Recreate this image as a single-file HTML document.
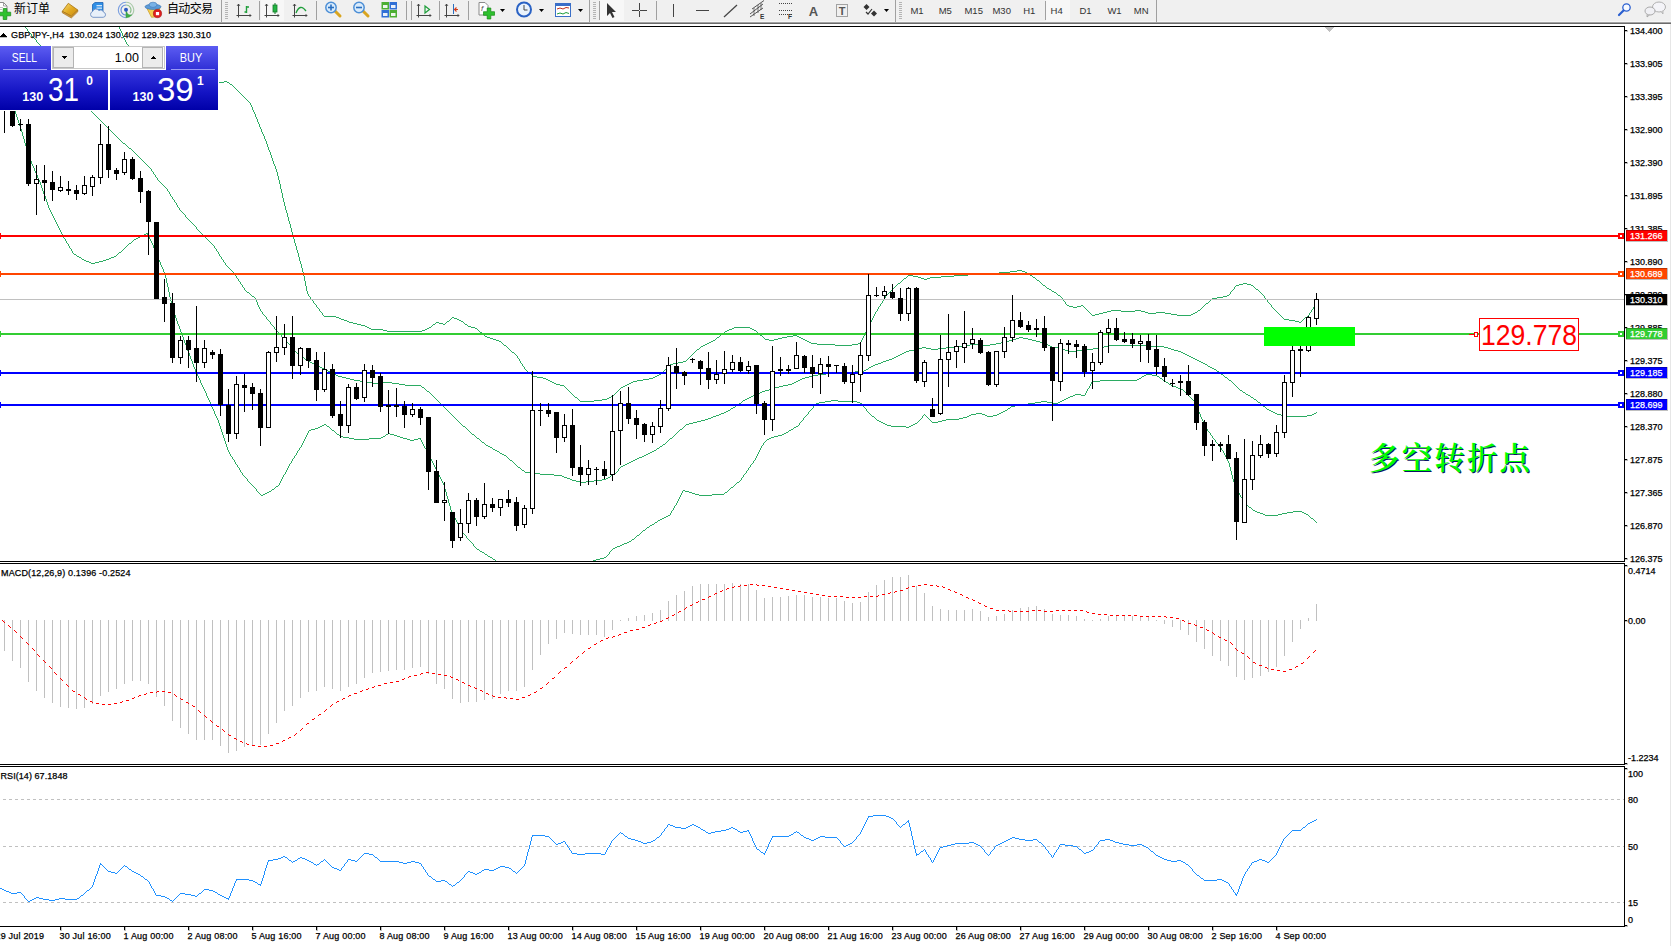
<!DOCTYPE html>
<html lang="zh"><head><meta charset="utf-8"><title>GBPJPY-,H4</title>
<style>
html,body{margin:0;padding:0;background:#fff;overflow:hidden}
body{width:1671px;height:946px;position:relative;font-family:"Liberation Sans","Noto Sans CJK SC",sans-serif}
svg{position:absolute;left:0;top:0;display:block}
svg text{font-family:"Liberation Sans","Noto Sans CJK SC",sans-serif}
.crisp{shape-rendering:crispEdges}
</style></head><body>
<svg class="crisp" width="1671" height="946" viewBox="0 0 1671 946">
<defs><clipPath id="cm"><rect x="0" y="27" width="1624" height="534"/></clipPath><clipPath id="c2"><rect x="0" y="564" width="1624" height="200"/></clipPath><clipPath id="c3"><rect x="0" y="767" width="1624" height="159"/></clipPath><linearGradient id="gb1" x1="0" y1="0" x2="0" y2="1"><stop offset="0" stop-color="#5c5cf2"/><stop offset="1" stop-color="#2f2fd6"/></linearGradient><linearGradient id="gb2" x1="0" y1="0" x2="0" y2="1"><stop offset="0" stop-color="#3535de"/><stop offset="0.55" stop-color="#1414c4"/><stop offset="1" stop-color="#0000a8"/></linearGradient></defs>
<rect x="0" y="26" width="1625" height="1" fill="#000"/>
<rect x="1624" y="26" width="1" height="901" fill="#000"/>
<rect x="0" y="561" width="1625" height="1" fill="#000"/>
<rect x="0" y="562" width="1625" height="1" fill="#fff"/>
<rect x="0" y="563" width="1625" height="1" fill="#000"/>
<rect x="0" y="764" width="1625" height="1" fill="#000"/>
<rect x="0" y="765" width="1625" height="1" fill="#fff"/>
<rect x="0" y="766" width="1625" height="1" fill="#000"/>
<rect x="0" y="926" width="1625" height="1" fill="#000"/>
<rect x="1670" y="24" width="1" height="922" fill="#e6e6e6"/>
<g clip-path="url(#cm)">
<path transform="translate(0,.5)" d="M140 60h2M142 61h2M144 62h2M146 63h2M148 64h2M150 65h2M152 66h2M154 67h3M157 68h2M159 69h2M161 70h2M163 71h2M165 72h2M167 73h2M169 74h4M173 75h5M178 76h5M183 77h5M188 78h5M193 79h5M198 80h8M206 81h10M224 81h3M216 82h8M227 82h2M230 84h2M1017 270h5M1010 271h7M1022 271h3M999 272h11M1025 272h2M980 273h19M1027 273h2M968 274h12M908 275h5M954 275h14M1030 275h2M913 276h5M941 276h13M918 277h3M930 277h11M1033 277h2M904 278h2M921 278h3M927 278h3M924 279h3M1037 280h2M898 283h2M1243 283h4M1239 284h4M1247 284h4M1043 285h2M1236 285h3M1251 285h2M1047 288h2M1049 289h2M1256 289h2M1052 291h2M1054 292h2M1058 295h2M1227 295h2M1223 296h4M1217 297h6M1212 298h5M1206 303h2M1067 305h2M1081 305h2M1069 306h4M1077 306h4M1073 307h4M1111 310h10M1135 310h6M1198 310h2M1107 311h4M1121 311h14M1141 311h4M1103 312h4M1145 312h3M1156 312h9M1195 312h2M1099 313h4M1148 313h8M1165 313h6M1193 313h2M1095 314h4M1171 314h6M1191 314h2M1092 315h3M1177 315h14M324 316h12M336 317h3M452 317h2M1305 317h2M339 318h2M454 318h3M341 319h3M457 319h2M1284 319h5M344 320h3M459 320h2M1289 320h6M347 321h2M447 321h2M461 321h2M1295 321h4M349 322h4M436 322h3M1299 322h2M353 323h4M439 323h4M357 324h4M433 324h2M443 324h2M465 324h2M361 325h4M365 326h2M468 326h3M367 327h2M429 327h2M471 327h4M734 327h16M369 328h2M427 328h2M475 328h2M732 328h2M750 328h2M371 329h12M425 329h2M729 329h3M752 329h2M383 330h4M422 330h3M727 330h2M754 330h2M387 331h35M725 331h2M480 332h2M722 333h2M760 335h2M793 335h4M485 336h2M787 336h6M797 336h2M487 337h3M717 337h2M782 337h5M799 337h2M490 338h3M778 338h4M801 338h2M493 339h3M765 339h4M774 339h4M803 339h2M496 340h3M713 340h2M769 340h5M805 340h2M499 341h2M711 341h2M807 341h2M709 342h2M809 342h2M707 343h2M811 343h6M858 343h3M705 344h2M817 344h18M852 344h6M504 345h2M703 345h2M835 345h17M701 346h2M697 349h2M512 352h2M683 361h3M678 362h5M673 363h5M670 364h3M529 373h2M659 374h2M657 375h2M533 376h4M655 376h2M537 377h6M653 377h2M543 378h3M649 378h4M546 379h2M643 379h6M548 380h2M637 380h6M550 381h2M633 381h4M552 382h2M631 382h2M554 383h2M629 383h2M556 384h4M627 384h2M560 385h4M625 385h2M623 386h2M621 387h2M611 396h2M575 397h2M609 397h2M607 398h2M602 399h5M594 400h8M580 401h14" stroke="#2bab62" fill="none"/><path transform="translate(.5,0)" d="M119 27v2M120 29v2M121 31v2M122 33v3M123 36v2M124 38v2M125 40v2M126 42v2M127 44v1M128 45v2M129 47v1M130 48v1M131 49v1M132 50v1M133 51v2M134 53v1M135 54v1M136 55v1M137 56v1M138 57v2M139 59v1M229 83v1M232 85v1M233 86v1M234 87v1M235 88v1M236 89v1M237 90v1M238 91v1M239 92v1M240 93v1M241 94v1M242 95v1M243 96v1M244 97v1M245 98v1M246 99v1M247 100v1M248 101v1M249 102v1M250 103v2M251 105v2M252 107v3M253 110v2M254 112v2M255 114v3M256 117v2M257 119v3M258 122v2M259 124v3M260 127v2M261 129v3M262 132v2M263 134v2M264 136v3M265 139v2M266 141v3M267 144v3M268 147v3M269 150v2M270 152v3M271 155v3M272 158v3M273 161v3M274 164v2M275 166v3M276 169v3M277 172v4M278 176v4M279 180v4M280 184v5M281 189v4M282 193v5M283 198v4M284 202v4M285 206v4M286 210v3M287 213v4M288 217v4M289 221v3M290 224v4M291 228v4M292 232v3M293 235v4M294 239v4M295 243v3M296 246v4M297 250v3M298 253v4M299 257v4M300 261v3M301 264v4M302 268v4M303 272v4M304 276v5M305 281v5M306 286v5M307 291v3M308 294v2M309 296v1M310 297v2M311 299v1M312 300v1M313 301v2M314 303v1M315 304v1M316 305v2M317 307v1M318 308v1M319 309v2M320 311v1M321 312v1M322 313v2M323 315v1M431 326v1M432 325v1M435 323v1M445 323v1M446 322v1M449 320v1M450 319v1M451 318v1M463 322v1M464 323v1M467 325v1M477 329v1M478 330v1M479 331v1M482 333v1M483 334v1M484 335v1M501 342v1M502 343v1M503 344v1M506 346v1M507 347v1M508 348v1M509 349v1M510 350v1M511 351v1M514 353v1M515 354v1M516 355v1M517 356v2M518 358v1M519 359v2M520 361v2M521 363v1M522 364v2M523 366v1M524 367v2M525 369v1M526 370v1M527 371v1M528 372v1M531 374v1M532 375v1M564 386v1M565 387v1M566 388v1M567 389v1M568 390v1M569 391v1M570 392v1M571 393v1M572 394v1M573 395v1M574 396v1M577 398v1M578 399v1M579 400v1M613 395v1M614 394v1M615 393v1M616 392v1M617 391v1M618 390v1M619 389v1M620 388v1M661 373v1M662 372v1M663 371v1M664 370v1M665 369v1M666 368v1M667 367v1M668 366v1M669 365v1M686 360v1M687 359v1M688 358v1M689 357v1M690 356v1M691 355v1M692 354v1M693 353v1M694 352v1M695 351v1M696 350v1M699 348v1M700 347v1M715 339v1M716 338v1M719 336v1M720 335v1M721 334v1M724 332v1M756 331v1M757 332v1M758 333v1M759 334v1M762 336v1M763 337v1M764 338v1M860 342v1M861 340v2M862 338v2M863 336v2M864 334v2M865 332v2M866 330v2M867 328v2M868 326v2M869 324v2M870 322v2M871 320v2M872 318v2M873 316v2M874 314v2M875 312v2M876 311v1M877 309v2M878 307v2M879 306v1M880 304v2M881 303v1M882 301v2M883 299v2M884 298v1M885 296v2M886 295v1M887 294v1M888 293v1M889 292v1M890 291v1M891 290v1M892 289v1M893 288v1M894 287v1M895 286v1M896 285v1M897 284v1M900 282v1M901 281v1M902 280v1M903 279v1M906 277v1M907 276v1M1029 274v1M1032 276v1M1035 278v1M1036 279v1M1039 281v1M1040 282v1M1041 283v1M1042 284v1M1045 286v1M1046 287v1M1051 290v1M1056 293v1M1057 294v1M1060 296v1M1061 297v1M1062 298v2M1063 300v1M1064 301v1M1065 302v2M1066 304v1M1083 306v1M1084 307v1M1085 308v1M1086 309v1M1087 310v1M1088 311v1M1089 312v1M1090 313v1M1091 314v1M1197 311v1M1200 309v1M1201 308v1M1202 307v1M1203 306v1M1204 305v1M1205 304v1M1208 302v1M1209 301v1M1210 300v1M1211 299v1M1229 294v1M1230 292v2M1231 291v1M1232 290v1M1233 289v1M1234 287v2M1235 286v1M1253 286v1M1254 287v1M1255 288v1M1258 290v1M1259 291v1M1260 292v1M1261 293v1M1262 294v1M1263 295v1M1264 296v2M1265 298v1M1266 299v1M1267 300v2M1268 302v1M1269 303v1M1270 304v1M1271 305v2M1272 307v1M1273 308v1M1274 309v1M1275 310v1M1276 311v1M1277 312v1M1278 313v1M1279 314v1M1280 315v1M1281 316v1M1282 317v1M1283 318v1M1301 321v1M1302 320v1M1303 319v1M1304 318v1M1307 316v1M1308 315v1M1309 313v2M1310 312v1M1311 310v2M1312 309v1M1313 307v2M1314 305v2M1315 303v2M1316 302v1" stroke="#2bab62" fill="none"/>
<path transform="translate(0,.5)" d="M123 143h2M129 148h2M247 292h2M252 296h2M1019 337h4M1016 338h3M1023 338h5M1013 339h3M1028 339h4M1009 340h4M1032 340h4M1005 341h4M1036 341h4M1001 342h4M1040 342h3M996 343h5M1043 343h2M970 344h10M990 344h6M1045 344h3M962 345h8M980 345h10M1048 345h2M1109 345h42M954 346h8M1050 346h2M1104 346h5M1151 346h13M922 347h4M946 347h8M1052 347h6M1099 347h5M1164 347h4M918 348h4M926 348h5M938 348h8M1058 348h3M1093 348h6M1168 348h3M914 349h4M931 349h7M1061 349h4M1085 349h8M1171 349h3M909 350h5M1065 350h3M1076 350h9M1174 350h4M906 351h3M1068 351h8M1178 351h3M904 352h2M1181 352h2M902 353h2M1183 353h2M900 354h2M1185 354h2M299 355h2M898 355h2M1187 355h2M896 356h2M1189 356h2M302 357h2M894 357h2M1191 357h2M892 358h2M1193 358h2M889 359h3M1195 359h2M306 360h2M886 360h3M1197 360h2M308 361h2M883 361h3M1199 361h2M310 362h2M881 362h2M1201 362h2M312 363h2M878 363h3M1203 363h2M314 364h2M875 364h3M1205 364h2M316 365h2M873 365h2M318 366h2M871 366h2M1208 366h2M320 367h2M869 367h2M1210 367h2M322 368h2M1212 368h2M324 369h2M866 369h2M1214 369h2M326 370h2M864 370h2M328 371h2M855 371h9M1217 371h2M330 372h2M839 372h16M332 373h2M826 373h13M334 374h2M818 374h8M1221 374h2M336 375h2M812 375h6M338 376h4M809 376h3M342 377h4M805 377h4M1225 377h2M346 378h4M802 378h3M350 379h4M800 379h2M354 380h6M798 380h2M1229 380h2M360 381h6M796 381h2M366 382h6M382 382h10M794 382h2M372 383h10M392 383h7M792 383h2M399 384h6M788 384h4M405 385h16M783 385h5M779 386h4M422 387h2M775 387h4M772 388h3M769 389h3M765 390h4M1240 390h2M427 391h2M762 391h3M760 392h2M1243 392h2M757 393h3M755 394h2M1246 394h2M753 395h2M1248 395h2M751 396h2M749 397h2M1251 397h2M747 398h2M745 399h2M1254 399h2M743 400h2M1258 402h2M739 403h2M736 405h2M1263 406h2M733 407h2M731 408h2M1267 409h2M728 410h2M1269 410h2M726 411h2M1271 411h2M724 412h2M1273 412h2M721 413h3M1275 413h2M1314 413h2M719 414h2M1277 414h4M1312 414h2M716 415h3M1281 415h6M1307 415h5M713 416h3M1287 416h20M711 417h2M708 418h3M705 419h3M701 420h4M697 421h4M693 422h4M689 423h4M686 424h3M463 426h2M680 429h2M472 434h2M477 438h2M670 438h2M482 442h2M663 444h2M486 445h2M488 446h2M660 446h2M490 447h2M657 448h2M493 449h2M495 450h2M654 450h2M497 451h2M652 451h2M650 452h2M500 453h2M648 453h2M502 454h2M646 454h2M504 455h2M644 455h2M642 456h2M639 457h3M637 458h2M635 459h2M510 460h2M633 460h2M631 461h2M629 462h2M627 463h2M625 464h2M623 465h2M621 466h2M518 467h2M522 470h2M525 472h5M530 473h10M540 474h14M613 474h2M554 475h8M611 475h2M562 476h2M564 477h3M608 477h2M567 478h3M606 478h2M570 479h2M602 479h4M572 480h4M594 480h8M576 481h4M586 481h8M580 482h6" stroke="#2bab62" fill="none"/><path transform="translate(.5,0)" d="M25 27v1M26 28v1M27 29v2M28 31v1M29 32v1M30 33v1M31 34v2M32 36v1M33 37v1M34 38v1M35 39v1M36 40v2M37 42v1M38 43v1M39 44v1M40 45v2M41 47v1M42 48v1M43 49v1M44 50v1M45 51v2M46 53v1M47 54v1M48 55v1M49 56v2M50 58v1M51 59v1M52 60v1M53 61v2M54 63v1M55 64v1M56 65v1M57 66v1M58 67v2M59 69v1M60 70v1M61 71v1M62 72v2M63 74v1M64 75v1M65 76v2M66 78v1M67 79v1M68 80v2M69 82v1M70 83v1M71 84v2M72 86v1M73 87v1M74 88v2M75 90v1M76 91v1M77 92v1M78 93v2M79 95v1M80 96v1M81 97v2M82 99v1M83 100v1M84 101v2M85 103v1M86 104v1M87 105v2M88 107v1M89 108v1M90 109v2M91 111v1M92 112v1M93 113v1M94 114v1M95 115v1M96 116v1M97 117v1M98 118v1M99 119v1M100 120v1M101 121v1M102 122v1M103 123v1M104 124v1M105 125v1M106 126v1M107 127v1M108 128v1M109 129v1M110 130v1M111 131v1M112 132v1M113 133v1M114 134v1M115 135v1M116 136v1M117 137v1M118 138v1M119 139v1M120 140v1M121 141v1M122 142v1M125 144v1M126 145v1M127 146v1M128 147v1M131 149v1M132 150v1M133 151v1M134 152v1M135 153v1M136 154v1M137 155v1M138 156v1M139 157v1M140 158v1M141 159v1M142 160v1M143 161v1M144 162v1M145 163v1M146 164v1M147 165v1M148 166v1M149 167v1M150 168v1M151 169v2M152 171v1M153 172v2M154 174v1M155 175v2M156 177v1M157 178v2M158 180v1M159 181v1M160 182v1M161 183v1M162 184v1M163 185v1M164 186v1M165 187v1M166 188v1M167 189v2M168 191v1M169 192v2M170 194v2M171 196v1M172 197v2M173 199v1M174 200v2M175 202v1M176 203v2M177 205v2M178 207v1M179 208v2M180 210v1M181 211v1M182 212v1M183 213v1M184 214v1M185 215v2M186 217v1M187 218v1M188 219v1M189 220v1M190 221v1M191 222v1M192 223v1M193 224v1M194 225v1M195 226v1M196 227v2M197 229v1M198 230v1M199 231v1M200 232v1M201 233v1M202 234v1M203 235v1M204 236v1M205 237v1M206 238v1M207 239v1M208 240v1M209 241v1M210 242v1M211 243v1M212 244v1M213 245v1M214 246v2M215 248v1M216 249v2M217 251v1M218 252v2M219 254v2M220 256v1M221 257v2M222 259v1M223 260v2M224 262v1M225 263v2M226 265v1M227 266v1M228 267v1M229 268v1M230 269v1M231 270v1M232 271v1M233 272v1M234 273v2M235 275v1M236 276v2M237 278v1M238 279v2M239 281v1M240 282v2M241 284v1M242 285v2M243 287v1M244 288v2M245 290v1M246 291v1M249 293v1M250 294v1M251 295v1M254 297v1M255 298v2M256 300v2M257 302v3M258 305v2M259 307v2M260 309v2M261 311v1M262 312v2M263 314v1M264 315v1M265 316v1M266 317v2M267 319v1M268 320v1M269 321v1M270 322v2M271 324v1M272 325v1M273 326v1M274 327v2M275 329v1M276 330v1M277 331v1M278 332v1M279 333v1M280 334v1M281 335v2M282 337v1M283 338v1M284 339v1M285 340v1M286 341v1M287 342v1M288 343v1M289 344v1M290 345v1M291 346v1M292 347v2M293 349v1M294 350v1M295 351v1M296 352v1M297 353v1M298 354v1M301 356v1M304 358v1M305 359v1M421 386v1M424 388v1M425 389v1M426 390v1M429 392v1M430 393v1M431 394v1M432 395v1M433 396v1M434 397v1M435 398v1M436 399v1M437 400v1M438 401v1M439 402v1M440 403v1M441 404v1M442 405v1M443 406v1M444 407v1M445 408v1M446 409v1M447 410v1M448 411v1M449 412v1M450 413v1M451 414v1M452 415v1M453 416v1M454 417v1M455 418v1M456 419v1M457 420v1M458 421v1M459 422v1M460 423v1M461 424v1M462 425v1M465 427v1M466 428v1M467 429v1M468 430v1M469 431v1M470 432v1M471 433v1M474 435v1M475 436v1M476 437v1M479 439v1M480 440v1M481 441v1M484 443v1M485 444v1M492 448v1M499 452v1M506 456v1M507 457v1M508 458v1M509 459v1M512 461v1M513 462v1M514 463v1M515 464v1M516 465v1M517 466v1M520 468v1M521 469v1M524 471v1M610 476v1M615 473v1M616 472v1M617 471v1M618 469v2M619 468v1M620 467v1M656 449v1M659 447v1M662 445v1M665 443v1M666 442v1M667 441v1M668 440v1M669 439v1M672 437v1M673 436v1M674 435v1M675 434v1M676 433v1M677 432v1M678 431v1M679 430v1M682 428v1M683 427v1M684 426v1M685 425v1M730 409v1M735 406v1M738 404v1M741 402v1M742 401v1M868 368v1M1207 365v1M1216 370v1M1219 372v1M1220 373v1M1223 375v1M1224 376v1M1227 378v1M1228 379v1M1231 381v1M1232 382v1M1233 383v1M1234 384v1M1235 385v1M1236 386v1M1237 387v1M1238 388v1M1239 389v1M1242 391v1M1245 393v1M1250 396v1M1253 398v1M1256 400v1M1257 401v1M1260 403v1M1261 404v1M1262 405v1M1265 407v1M1266 408v1M1316 412v1" stroke="#2bab62" fill="none"/>
<path transform="translate(0,.5)" d="M146 233h2M144 234h2M142 235h2M140 236h2M138 237h2M136 238h2M134 239h2M129 243h2M119 252h2M74 254h2M77 256h2M114 256h2M79 257h2M111 257h3M109 258h2M82 259h2M106 259h3M84 260h2M103 260h3M86 261h3M99 261h4M89 262h2M95 262h4M91 263h4M1146 374h6M1144 375h2M1152 375h5M1142 376h2M1157 376h2M1139 378h2M1160 378h2M1137 379h2M1100 380h37M1163 380h2M1092 381h8M1166 382h2M1169 384h2M1171 385h2M1173 386h3M1176 387h2M1178 388h3M1181 389h2M1075 394h6M1073 395h2M1081 395h4M1070 396h3M1068 397h2M1066 398h2M1064 399h2M831 400h7M1062 400h2M825 401h6M838 401h19M1041 401h6M1060 401h2M819 402h6M857 402h3M1035 402h6M1047 402h6M1058 402h2M816 403h3M860 403h2M1028 403h7M1053 403h5M1022 404h6M1015 405h7M1011 406h4M1008 408h2M1005 410h2M1003 411h2M1001 412h2M976 413h6M999 413h2M971 414h5M982 414h3M997 414h2M969 415h2M985 415h2M993 415h4M872 416h2M967 416h2M987 416h6M963 417h4M959 418h4M946 419h13M877 420h2M942 420h4M879 421h2M938 421h4M881 422h2M932 422h6M883 423h2M915 423h2M324 424h2M885 424h2M913 424h2M322 425h2M887 425h4M911 425h2M320 426h2M327 426h2M796 426h2M891 426h15M909 426h2M318 427h2M794 427h2M906 427h3M315 428h3M311 429h4M791 429h2M309 430h2M332 430h2M789 430h2M786 432h2M388 433h2M784 433h2M337 434h2M386 434h2M390 434h4M782 434h2M394 435h3M778 435h4M340 436h3M383 436h2M397 436h3M774 436h4M343 437h6M381 437h2M400 437h3M771 437h3M349 438h5M369 438h12M403 438h4M418 438h3M769 438h2M354 439h15M407 439h3M414 439h4M767 439h2M410 440h4M737 482h2M276 486h2M731 487h2M272 489h2M683 490h2M269 491h2M685 491h4M267 492h2M689 492h3M725 492h2M265 493h2M692 493h3M263 494h2M695 494h4M712 494h12M261 495h2M699 495h13M1249 507h2M1253 510h2M1255 511h2M1293 511h9M1257 512h3M1287 512h6M1302 512h2M1260 513h3M1282 513h5M1304 513h2M1263 514h2M1278 514h4M1306 514h2M668 515h2M1265 515h13M666 516h2M664 517h2M662 518h2M1311 518h2M660 519h2M658 520h2M655 522h2M652 524h2M650 525h2M647 527h2M643 530h2M637 535h2M632 539h2M629 541h2M627 542h2M624 543h3M622 544h2M620 545h2M617 546h3M615 547h2M613 548h2M477 549h2M480 551h2M482 552h2M485 554h2M488 556h2M490 557h2M604 557h2M600 558h4M493 559h2M596 559h4M593 560h3" stroke="#2bab62" fill="none"/><path transform="translate(.5,0)" d="M0 63v3M1 66v4M2 70v3M3 73v4M4 77v3M5 80v3M6 83v3M7 86v3M8 89v3M9 92v3M10 95v3M11 98v3M12 101v3M13 104v4M14 108v3M15 111v3M16 114v3M17 117v3M18 120v3M19 123v3M20 126v3M21 129v3M22 132v4M23 136v3M24 139v4M25 143v3M26 146v3M27 149v3M28 152v3M29 155v3M30 158v3M31 161v3M32 164v2M33 166v2M34 168v3M35 171v2M36 173v2M37 175v3M38 178v2M39 180v2M40 182v3M41 185v3M42 188v3M43 191v3M44 194v2M45 196v3M46 199v3M47 202v3M48 205v3M49 208v2M50 210v2M51 212v2M52 214v2M53 216v2M54 218v2M55 220v2M56 222v2M57 224v2M58 226v2M59 228v2M60 230v2M61 232v2M62 234v2M63 236v2M64 238v1M65 239v2M66 241v2M67 243v1M68 244v2M69 246v2M70 248v1M71 249v2M72 251v2M73 253v1M76 255v1M81 258v1M116 255v1M117 254v1M118 253v1M121 251v1M122 250v1M123 249v1M124 248v1M125 247v1M126 246v1M127 245v1M128 244v1M131 242v1M132 241v1M133 240v1M147 234v1M148 235v2M149 237v2M150 239v2M151 241v2M152 243v2M153 245v3M154 248v2M155 250v3M156 253v2M157 255v2M158 257v3M159 260v2M160 262v3M161 265v2M162 267v2M163 269v3M164 272v2M165 274v4M166 278v5M167 283v4M168 287v5M169 292v5M170 297v4M171 301v4M172 305v3M173 308v4M174 312v3M175 315v3M176 318v3M177 321v3M178 324v2M179 326v3M180 329v3M181 332v3M182 335v2M183 337v3M184 340v3M185 343v2M186 345v3M187 348v3M188 351v2M189 353v3M190 356v3M191 359v2M192 361v3M193 364v3M194 367v2M195 369v3M196 372v2M197 374v2M198 376v2M199 378v2M200 380v3M201 383v2M202 385v2M203 387v2M204 389v2M205 391v2M206 393v3M207 396v2M208 398v2M209 400v2M210 402v2M211 404v3M212 407v2M213 409v2M214 411v3M215 414v2M216 416v2M217 418v2M218 420v3M219 423v3M220 426v3M221 429v3M222 432v3M223 435v3M224 438v3M225 441v3M226 444v3M227 447v3M228 450v2M229 452v2M230 454v2M231 456v1M232 457v2M233 459v1M234 460v2M235 462v2M236 464v1M237 465v2M238 467v1M239 468v2M240 470v2M241 472v1M242 473v2M243 475v1M244 476v1M245 477v1M246 478v1M247 479v2M248 481v1M249 482v1M250 483v1M251 484v1M252 485v1M253 486v1M254 487v1M255 488v1M256 489v2M257 491v1M258 492v1M259 493v1M260 494v1M271 490v1M274 488v1M275 487v1M278 485v1M279 483v2M280 481v2M281 479v2M282 477v2M283 475v2M284 474v1M285 472v2M286 470v2M287 468v2M288 466v2M289 464v2M290 463v1M291 461v2M292 459v2M293 458v1M294 456v2M295 455v1M296 453v2M297 451v2M298 450v1M299 448v2M300 447v1M301 445v2M302 443v2M303 441v2M304 439v2M305 437v2M306 435v2M307 433v2M308 431v2M326 425v1M329 427v1M330 428v1M331 429v1M334 431v1M335 432v1M336 433v1M339 435v1M385 435v1M420 439v1M421 440v2M422 442v2M423 444v2M424 446v2M425 448v1M426 449v2M427 451v2M428 453v2M429 455v2M430 457v2M431 459v2M432 461v2M433 463v2M434 465v2M435 467v2M436 469v2M437 471v2M438 473v2M439 475v2M440 477v2M441 479v2M442 481v2M443 483v2M444 485v4M445 489v3M446 492v4M447 496v3M448 499v4M449 503v3M450 506v4M451 510v2M452 512v2M453 514v2M454 516v2M455 518v2M456 520v2M457 522v2M458 524v1M459 525v2M460 527v2M461 529v2M462 531v2M463 533v1M464 534v1M465 535v1M466 536v2M467 538v1M468 539v1M469 540v1M470 541v1M471 542v1M472 543v1M473 544v2M474 546v1M475 547v1M476 548v1M479 550v1M484 553v1M487 555v1M492 558v1M495 560v1M606 556v1M607 555v1M608 554v1M609 552v2M610 551v1M611 550v1M612 549v1M631 540v1M634 538v1M635 537v1M636 536v1M639 534v1M640 533v1M641 532v1M642 531v1M645 529v1M646 528v1M649 526v1M654 523v1M657 521v1M670 513v2M671 511v2M672 510v1M673 508v2M674 506v2M675 505v1M676 503v2M677 501v2M678 499v2M679 497v2M680 495v2M681 493v2M682 491v2M724 493v1M727 491v1M728 490v1M729 489v1M730 488v1M733 486v1M734 485v1M735 484v1M736 483v1M739 481v1M740 480v1M741 478v2M742 477v1M743 475v2M744 474v1M745 473v1M746 471v2M747 470v1M748 468v2M749 467v1M750 465v2M751 464v1M752 463v1M753 461v2M754 460v1M755 458v2M756 456v2M757 454v2M758 452v2M759 450v2M760 448v2M761 446v2M762 445v1M763 443v2M764 442v1M765 441v1M766 440v1M788 431v1M793 428v1M798 425v1M799 423v2M800 422v1M801 421v1M802 420v1M803 418v2M804 417v1M805 416v1M806 415v1M807 414v1M808 412v2M809 411v1M810 410v1M811 409v1M812 408v1M813 406v2M814 405v1M815 404v1M862 404v2M863 406v1M864 407v1M865 408v1M866 409v2M867 411v1M868 412v1M869 413v1M870 414v1M871 415v1M874 417v1M875 418v1M876 419v1M917 422v1M918 421v1M919 420v1M920 419v1M921 418v1M922 416v2M923 415v1M924 414v1M925 415v1M926 416v1M927 417v1M928 418v1M929 419v1M930 420v1M931 421v1M1007 409v1M1010 407v1M1085 393v2M1086 391v2M1087 389v2M1088 388v1M1089 386v2M1090 384v2M1091 382v2M1141 377v1M1159 377v1M1162 379v1M1165 381v1M1168 383v1M1183 390v1M1184 391v1M1185 392v1M1186 393v1M1187 394v1M1188 395v1M1189 396v1M1190 397v1M1191 398v1M1192 399v1M1193 400v1M1194 401v2M1195 403v2M1196 405v2M1197 407v3M1198 410v2M1199 412v2M1200 414v3M1201 417v2M1202 419v2M1203 421v2M1204 423v2M1205 425v2M1206 427v2M1207 429v2M1208 431v1M1209 432v1M1210 433v2M1211 435v1M1212 436v2M1213 438v1M1214 439v1M1215 440v2M1216 442v1M1217 443v1M1218 444v2M1219 446v1M1220 447v1M1221 448v2M1222 450v1M1223 451v2M1224 453v2M1225 455v2M1226 457v2M1227 459v2M1228 461v2M1229 463v4M1230 467v4M1231 471v4M1232 475v4M1233 479v3M1234 482v2M1235 484v2M1236 486v3M1237 489v2M1238 491v2M1239 493v2M1240 495v2M1241 497v1M1242 498v2M1243 500v1M1244 501v1M1245 502v2M1246 504v1M1247 505v1M1248 506v1M1251 508v1M1252 509v1M1308 515v1M1309 516v1M1310 517v1M1313 519v1M1314 520v1M1315 521v1M1316 522v1" stroke="#2bab62" fill="none"/>
<rect x="0" y="299" width="1624" height="1" fill="#c0c0c0"/>
<rect x="0" y="235" width="1624" height="2" fill="#ff0000"/>
<rect x="0" y="233" width="1" height="6" fill="#ff0000"/>
<rect x="0" y="273" width="1624" height="2" fill="#ff4500"/>
<rect x="0" y="271" width="1" height="6" fill="#ff4500"/>
<rect x="0" y="333" width="1624" height="2" fill="#32cd32"/>
<rect x="0" y="331" width="1" height="6" fill="#32cd32"/>
<rect x="0" y="372" width="1624" height="2" fill="#0000ff"/>
<rect x="0" y="370" width="1" height="6" fill="#0000ff"/>
<rect x="0" y="404" width="1624" height="2" fill="#0000ff"/>
<rect x="0" y="402" width="1" height="6" fill="#0000ff"/>
<rect x="4" y="100" width="1" height="33" fill="#000"/>
<rect x="12" y="100" width="1" height="27" fill="#000"/>
<rect x="10" y="100" width="5" height="26" fill="#000"/>
<rect x="20" y="119" width="1" height="12" fill="#000"/>
<rect x="18" y="124" width="5" height="1" fill="#000"/>
<rect x="28" y="119" width="1" height="67" fill="#000"/>
<rect x="26" y="124" width="5" height="60" fill="#000"/>
<rect x="36" y="165" width="1" height="50" fill="#000"/>
<rect x="34" y="179" width="5" height="5" fill="#000"/>
<rect x="35" y="180" width="3" height="3" fill="#fff"/>
<rect x="44" y="165" width="1" height="36" fill="#000"/>
<rect x="42" y="180" width="5" height="3" fill="#000"/>
<rect x="52" y="171" width="1" height="30" fill="#000"/>
<rect x="50" y="182" width="5" height="8" fill="#000"/>
<rect x="60" y="176" width="1" height="16" fill="#000"/>
<rect x="58" y="187" width="5" height="4" fill="#000"/>
<rect x="59" y="188" width="3" height="2" fill="#fff"/>
<rect x="68" y="181" width="1" height="14" fill="#000"/>
<rect x="66" y="189" width="5" height="2" fill="#000"/>
<rect x="76" y="185" width="1" height="15" fill="#000"/>
<rect x="74" y="190" width="5" height="4" fill="#000"/>
<rect x="84" y="176" width="1" height="19" fill="#000"/>
<rect x="82" y="185" width="5" height="9" fill="#000"/>
<rect x="83" y="186" width="3" height="7" fill="#fff"/>
<rect x="92" y="175" width="1" height="21" fill="#000"/>
<rect x="90" y="177" width="5" height="10" fill="#000"/>
<rect x="91" y="178" width="3" height="8" fill="#fff"/>
<rect x="100" y="124" width="1" height="60" fill="#000"/>
<rect x="98" y="144" width="5" height="34" fill="#000"/>
<rect x="99" y="145" width="3" height="32" fill="#fff"/>
<rect x="108" y="126" width="1" height="52" fill="#000"/>
<rect x="106" y="144" width="5" height="26" fill="#000"/>
<rect x="116" y="168" width="1" height="12" fill="#000"/>
<rect x="114" y="170" width="5" height="4" fill="#000"/>
<rect x="124" y="152" width="1" height="23" fill="#000"/>
<rect x="122" y="159" width="5" height="14" fill="#000"/>
<rect x="123" y="160" width="3" height="12" fill="#fff"/>
<rect x="132" y="157" width="1" height="23" fill="#000"/>
<rect x="130" y="159" width="5" height="20" fill="#000"/>
<rect x="140" y="171" width="1" height="32" fill="#000"/>
<rect x="138" y="178" width="5" height="14" fill="#000"/>
<rect x="148" y="190" width="1" height="65" fill="#000"/>
<rect x="146" y="191" width="5" height="31" fill="#000"/>
<rect x="156" y="222" width="1" height="77" fill="#000"/>
<rect x="154" y="222" width="5" height="77" fill="#000"/>
<rect x="164" y="279" width="1" height="43" fill="#000"/>
<rect x="162" y="297" width="5" height="7" fill="#000"/>
<rect x="172" y="293" width="1" height="70" fill="#000"/>
<rect x="170" y="303" width="5" height="55" fill="#000"/>
<rect x="180" y="336" width="1" height="28" fill="#000"/>
<rect x="178" y="340" width="5" height="18" fill="#000"/>
<rect x="179" y="341" width="3" height="16" fill="#fff"/>
<rect x="188" y="336" width="1" height="32" fill="#000"/>
<rect x="186" y="340" width="5" height="10" fill="#000"/>
<rect x="196" y="306" width="1" height="76" fill="#000"/>
<rect x="194" y="348" width="5" height="15" fill="#000"/>
<rect x="204" y="340" width="1" height="28" fill="#000"/>
<rect x="202" y="348" width="5" height="15" fill="#000"/>
<rect x="203" y="349" width="3" height="13" fill="#fff"/>
<rect x="212" y="350" width="1" height="9" fill="#000"/>
<rect x="210" y="352" width="5" height="3" fill="#000"/>
<rect x="220" y="349" width="1" height="67" fill="#000"/>
<rect x="218" y="354" width="5" height="51" fill="#000"/>
<rect x="228" y="389" width="1" height="53" fill="#000"/>
<rect x="226" y="405" width="5" height="29" fill="#000"/>
<rect x="236" y="376" width="1" height="63" fill="#000"/>
<rect x="234" y="384" width="5" height="50" fill="#000"/>
<rect x="235" y="385" width="3" height="48" fill="#fff"/>
<rect x="244" y="374" width="1" height="38" fill="#000"/>
<rect x="242" y="385" width="5" height="3" fill="#000"/>
<rect x="252" y="383" width="1" height="27" fill="#000"/>
<rect x="250" y="387" width="5" height="7" fill="#000"/>
<rect x="260" y="389" width="1" height="57" fill="#000"/>
<rect x="258" y="393" width="5" height="35" fill="#000"/>
<rect x="268" y="351" width="1" height="77" fill="#000"/>
<rect x="266" y="352" width="5" height="76" fill="#000"/>
<rect x="267" y="353" width="3" height="74" fill="#fff"/>
<rect x="276" y="316" width="1" height="46" fill="#000"/>
<rect x="274" y="347" width="5" height="6" fill="#000"/>
<rect x="275" y="348" width="3" height="4" fill="#fff"/>
<rect x="284" y="324" width="1" height="31" fill="#000"/>
<rect x="282" y="337" width="5" height="11" fill="#000"/>
<rect x="283" y="338" width="3" height="9" fill="#fff"/>
<rect x="292" y="316" width="1" height="63" fill="#000"/>
<rect x="290" y="337" width="5" height="29" fill="#000"/>
<rect x="300" y="347" width="1" height="28" fill="#000"/>
<rect x="298" y="348" width="5" height="18" fill="#000"/>
<rect x="299" y="349" width="3" height="16" fill="#fff"/>
<rect x="308" y="348" width="1" height="20" fill="#000"/>
<rect x="306" y="348" width="5" height="13" fill="#000"/>
<rect x="316" y="352" width="1" height="49" fill="#000"/>
<rect x="314" y="360" width="5" height="30" fill="#000"/>
<rect x="324" y="352" width="1" height="40" fill="#000"/>
<rect x="322" y="369" width="5" height="21" fill="#000"/>
<rect x="323" y="370" width="3" height="19" fill="#fff"/>
<rect x="332" y="364" width="1" height="54" fill="#000"/>
<rect x="330" y="369" width="5" height="47" fill="#000"/>
<rect x="340" y="401" width="1" height="37" fill="#000"/>
<rect x="338" y="414" width="5" height="12" fill="#000"/>
<rect x="348" y="384" width="1" height="49" fill="#000"/>
<rect x="346" y="387" width="5" height="39" fill="#000"/>
<rect x="347" y="388" width="3" height="37" fill="#fff"/>
<rect x="356" y="383" width="1" height="17" fill="#000"/>
<rect x="354" y="387" width="5" height="12" fill="#000"/>
<rect x="364" y="364" width="1" height="38" fill="#000"/>
<rect x="362" y="370" width="5" height="28" fill="#000"/>
<rect x="363" y="371" width="3" height="26" fill="#fff"/>
<rect x="372" y="365" width="1" height="22" fill="#000"/>
<rect x="370" y="370" width="5" height="8" fill="#000"/>
<rect x="380" y="373" width="1" height="39" fill="#000"/>
<rect x="378" y="376" width="5" height="31" fill="#000"/>
<rect x="388" y="390" width="1" height="44" fill="#000"/>
<rect x="386" y="405" width="5" height="2" fill="#000"/>
<rect x="396" y="388" width="1" height="29" fill="#000"/>
<rect x="394" y="405" width="5" height="2" fill="#000"/>
<rect x="404" y="401" width="1" height="27" fill="#000"/>
<rect x="402" y="406" width="5" height="9" fill="#000"/>
<rect x="412" y="403" width="1" height="14" fill="#000"/>
<rect x="410" y="409" width="5" height="6" fill="#000"/>
<rect x="411" y="410" width="3" height="4" fill="#fff"/>
<rect x="420" y="407" width="1" height="18" fill="#000"/>
<rect x="418" y="409" width="5" height="9" fill="#000"/>
<rect x="428" y="417" width="1" height="73" fill="#000"/>
<rect x="426" y="417" width="5" height="55" fill="#000"/>
<rect x="436" y="460" width="1" height="43" fill="#000"/>
<rect x="434" y="471" width="5" height="32" fill="#000"/>
<rect x="444" y="482" width="1" height="39" fill="#000"/>
<rect x="442" y="500" width="5" height="3" fill="#000"/>
<rect x="443" y="501" width="3" height="1" fill="#fff"/>
<rect x="452" y="512" width="1" height="36" fill="#000"/>
<rect x="450" y="512" width="5" height="29" fill="#000"/>
<rect x="460" y="509" width="1" height="32" fill="#000"/>
<rect x="458" y="523" width="5" height="15" fill="#000"/>
<rect x="459" y="524" width="3" height="13" fill="#fff"/>
<rect x="468" y="493" width="1" height="40" fill="#000"/>
<rect x="466" y="500" width="5" height="24" fill="#000"/>
<rect x="467" y="501" width="3" height="22" fill="#fff"/>
<rect x="476" y="498" width="1" height="28" fill="#000"/>
<rect x="474" y="500" width="5" height="17" fill="#000"/>
<rect x="484" y="483" width="1" height="36" fill="#000"/>
<rect x="482" y="504" width="5" height="13" fill="#000"/>
<rect x="483" y="505" width="3" height="11" fill="#fff"/>
<rect x="492" y="498" width="1" height="14" fill="#000"/>
<rect x="490" y="504" width="5" height="4" fill="#000"/>
<rect x="500" y="499" width="1" height="17" fill="#000"/>
<rect x="498" y="499" width="5" height="9" fill="#000"/>
<rect x="499" y="500" width="3" height="7" fill="#fff"/>
<rect x="508" y="490" width="1" height="17" fill="#000"/>
<rect x="506" y="499" width="5" height="4" fill="#000"/>
<rect x="516" y="497" width="1" height="34" fill="#000"/>
<rect x="514" y="502" width="5" height="24" fill="#000"/>
<rect x="524" y="505" width="1" height="23" fill="#000"/>
<rect x="522" y="508" width="5" height="17" fill="#000"/>
<rect x="523" y="509" width="3" height="15" fill="#fff"/>
<rect x="532" y="371" width="1" height="143" fill="#000"/>
<rect x="530" y="410" width="5" height="99" fill="#000"/>
<rect x="531" y="411" width="3" height="97" fill="#fff"/>
<rect x="540" y="403" width="1" height="23" fill="#000"/>
<rect x="538" y="410" width="5" height="1" fill="#000"/>
<rect x="548" y="403" width="1" height="14" fill="#000"/>
<rect x="546" y="410" width="5" height="4" fill="#000"/>
<rect x="556" y="412" width="1" height="41" fill="#000"/>
<rect x="554" y="412" width="5" height="26" fill="#000"/>
<rect x="564" y="414" width="1" height="28" fill="#000"/>
<rect x="562" y="425" width="5" height="13" fill="#000"/>
<rect x="563" y="426" width="3" height="11" fill="#fff"/>
<rect x="572" y="409" width="1" height="67" fill="#000"/>
<rect x="570" y="425" width="5" height="43" fill="#000"/>
<rect x="580" y="445" width="1" height="41" fill="#000"/>
<rect x="578" y="467" width="5" height="8" fill="#000"/>
<rect x="588" y="460" width="1" height="25" fill="#000"/>
<rect x="586" y="468" width="5" height="7" fill="#000"/>
<rect x="587" y="469" width="3" height="5" fill="#fff"/>
<rect x="596" y="467" width="1" height="18" fill="#000"/>
<rect x="594" y="469" width="5" height="1" fill="#000"/>
<rect x="604" y="461" width="1" height="18" fill="#000"/>
<rect x="602" y="469" width="5" height="7" fill="#000"/>
<rect x="612" y="395" width="1" height="86" fill="#000"/>
<rect x="610" y="431" width="5" height="44" fill="#000"/>
<rect x="611" y="432" width="3" height="42" fill="#fff"/>
<rect x="620" y="391" width="1" height="74" fill="#000"/>
<rect x="618" y="403" width="5" height="28" fill="#000"/>
<rect x="619" y="404" width="3" height="26" fill="#fff"/>
<rect x="628" y="387" width="1" height="37" fill="#000"/>
<rect x="626" y="403" width="5" height="16" fill="#000"/>
<rect x="636" y="410" width="1" height="29" fill="#000"/>
<rect x="634" y="418" width="5" height="7" fill="#000"/>
<rect x="644" y="423" width="1" height="19" fill="#000"/>
<rect x="642" y="424" width="5" height="11" fill="#000"/>
<rect x="652" y="422" width="1" height="21" fill="#000"/>
<rect x="650" y="426" width="5" height="9" fill="#000"/>
<rect x="651" y="427" width="3" height="7" fill="#fff"/>
<rect x="660" y="400" width="1" height="33" fill="#000"/>
<rect x="658" y="408" width="5" height="19" fill="#000"/>
<rect x="659" y="409" width="3" height="17" fill="#fff"/>
<rect x="668" y="357" width="1" height="54" fill="#000"/>
<rect x="666" y="365" width="5" height="44" fill="#000"/>
<rect x="667" y="366" width="3" height="42" fill="#fff"/>
<rect x="676" y="348" width="1" height="41" fill="#000"/>
<rect x="674" y="366" width="5" height="7" fill="#000"/>
<rect x="684" y="371" width="1" height="14" fill="#000"/>
<rect x="682" y="372" width="5" height="4" fill="#000"/>
<rect x="692" y="358" width="1" height="5" fill="#000"/>
<rect x="690" y="359" width="5" height="1" fill="#000"/>
<rect x="700" y="360" width="1" height="25" fill="#000"/>
<rect x="698" y="361" width="5" height="8" fill="#000"/>
<rect x="708" y="352" width="1" height="37" fill="#000"/>
<rect x="706" y="368" width="5" height="12" fill="#000"/>
<rect x="716" y="360" width="1" height="24" fill="#000"/>
<rect x="714" y="374" width="5" height="6" fill="#000"/>
<rect x="715" y="375" width="3" height="4" fill="#fff"/>
<rect x="724" y="351" width="1" height="33" fill="#000"/>
<rect x="722" y="369" width="5" height="5" fill="#000"/>
<rect x="723" y="370" width="3" height="3" fill="#fff"/>
<rect x="732" y="355" width="1" height="17" fill="#000"/>
<rect x="730" y="362" width="5" height="8" fill="#000"/>
<rect x="731" y="363" width="3" height="6" fill="#fff"/>
<rect x="740" y="357" width="1" height="15" fill="#000"/>
<rect x="738" y="362" width="5" height="9" fill="#000"/>
<rect x="748" y="361" width="1" height="13" fill="#000"/>
<rect x="746" y="366" width="5" height="5" fill="#000"/>
<rect x="747" y="367" width="3" height="3" fill="#fff"/>
<rect x="756" y="365" width="1" height="49" fill="#000"/>
<rect x="754" y="365" width="5" height="39" fill="#000"/>
<rect x="764" y="401" width="1" height="34" fill="#000"/>
<rect x="762" y="403" width="5" height="17" fill="#000"/>
<rect x="772" y="346" width="1" height="85" fill="#000"/>
<rect x="770" y="371" width="5" height="49" fill="#000"/>
<rect x="771" y="372" width="3" height="47" fill="#fff"/>
<rect x="780" y="357" width="1" height="19" fill="#000"/>
<rect x="778" y="369" width="5" height="2" fill="#000"/>
<rect x="788" y="365" width="1" height="9" fill="#000"/>
<rect x="786" y="369" width="5" height="2" fill="#000"/>
<rect x="796" y="342" width="1" height="27" fill="#000"/>
<rect x="794" y="355" width="5" height="14" fill="#000"/>
<rect x="795" y="356" width="3" height="12" fill="#fff"/>
<rect x="804" y="355" width="1" height="18" fill="#000"/>
<rect x="802" y="356" width="5" height="12" fill="#000"/>
<rect x="812" y="355" width="1" height="33" fill="#000"/>
<rect x="810" y="367" width="5" height="7" fill="#000"/>
<rect x="820" y="358" width="1" height="36" fill="#000"/>
<rect x="818" y="364" width="5" height="10" fill="#000"/>
<rect x="819" y="365" width="3" height="8" fill="#fff"/>
<rect x="828" y="356" width="1" height="21" fill="#000"/>
<rect x="826" y="364" width="5" height="3" fill="#000"/>
<rect x="836" y="365" width="1" height="8" fill="#000"/>
<rect x="834" y="365" width="5" height="1" fill="#000"/>
<rect x="844" y="363" width="1" height="21" fill="#000"/>
<rect x="842" y="366" width="5" height="16" fill="#000"/>
<rect x="852" y="365" width="1" height="38" fill="#000"/>
<rect x="850" y="374" width="5" height="9" fill="#000"/>
<rect x="851" y="375" width="3" height="7" fill="#fff"/>
<rect x="860" y="342" width="1" height="50" fill="#000"/>
<rect x="858" y="355" width="5" height="20" fill="#000"/>
<rect x="859" y="356" width="3" height="18" fill="#fff"/>
<rect x="868" y="274" width="1" height="87" fill="#000"/>
<rect x="866" y="295" width="5" height="61" fill="#000"/>
<rect x="867" y="296" width="3" height="59" fill="#fff"/>
<rect x="876" y="287" width="1" height="10" fill="#000"/>
<rect x="874" y="295" width="5" height="1" fill="#000"/>
<rect x="884" y="286" width="1" height="13" fill="#000"/>
<rect x="882" y="291" width="5" height="5" fill="#000"/>
<rect x="883" y="292" width="3" height="3" fill="#fff"/>
<rect x="892" y="284" width="1" height="15" fill="#000"/>
<rect x="890" y="292" width="5" height="6" fill="#000"/>
<rect x="900" y="288" width="1" height="33" fill="#000"/>
<rect x="898" y="298" width="5" height="16" fill="#000"/>
<rect x="908" y="287" width="1" height="34" fill="#000"/>
<rect x="906" y="288" width="5" height="26" fill="#000"/>
<rect x="907" y="289" width="3" height="24" fill="#fff"/>
<rect x="916" y="287" width="1" height="96" fill="#000"/>
<rect x="914" y="288" width="5" height="93" fill="#000"/>
<rect x="924" y="360" width="1" height="27" fill="#000"/>
<rect x="922" y="362" width="5" height="20" fill="#000"/>
<rect x="923" y="363" width="3" height="18" fill="#fff"/>
<rect x="932" y="398" width="1" height="19" fill="#000"/>
<rect x="930" y="409" width="5" height="8" fill="#000"/>
<rect x="940" y="335" width="1" height="80" fill="#000"/>
<rect x="938" y="359" width="5" height="55" fill="#000"/>
<rect x="939" y="360" width="3" height="53" fill="#fff"/>
<rect x="948" y="314" width="1" height="73" fill="#000"/>
<rect x="946" y="352" width="5" height="8" fill="#000"/>
<rect x="947" y="353" width="3" height="6" fill="#fff"/>
<rect x="956" y="340" width="1" height="28" fill="#000"/>
<rect x="954" y="346" width="5" height="6" fill="#000"/>
<rect x="955" y="347" width="3" height="4" fill="#fff"/>
<rect x="964" y="311" width="1" height="52" fill="#000"/>
<rect x="962" y="343" width="5" height="5" fill="#000"/>
<rect x="963" y="344" width="3" height="3" fill="#fff"/>
<rect x="972" y="328" width="1" height="21" fill="#000"/>
<rect x="970" y="339" width="5" height="5" fill="#000"/>
<rect x="971" y="340" width="3" height="3" fill="#fff"/>
<rect x="980" y="338" width="1" height="16" fill="#000"/>
<rect x="978" y="340" width="5" height="13" fill="#000"/>
<rect x="988" y="351" width="1" height="35" fill="#000"/>
<rect x="986" y="352" width="5" height="33" fill="#000"/>
<rect x="996" y="351" width="1" height="36" fill="#000"/>
<rect x="994" y="351" width="5" height="34" fill="#000"/>
<rect x="995" y="352" width="3" height="32" fill="#fff"/>
<rect x="1004" y="327" width="1" height="31" fill="#000"/>
<rect x="1002" y="337" width="5" height="15" fill="#000"/>
<rect x="1003" y="338" width="3" height="13" fill="#fff"/>
<rect x="1012" y="295" width="1" height="47" fill="#000"/>
<rect x="1010" y="320" width="5" height="18" fill="#000"/>
<rect x="1011" y="321" width="3" height="16" fill="#fff"/>
<rect x="1020" y="312" width="1" height="16" fill="#000"/>
<rect x="1018" y="320" width="5" height="7" fill="#000"/>
<rect x="1028" y="321" width="1" height="11" fill="#000"/>
<rect x="1026" y="325" width="5" height="5" fill="#000"/>
<rect x="1036" y="319" width="1" height="18" fill="#000"/>
<rect x="1034" y="328" width="5" height="2" fill="#000"/>
<rect x="1044" y="316" width="1" height="35" fill="#000"/>
<rect x="1042" y="328" width="5" height="20" fill="#000"/>
<rect x="1052" y="347" width="1" height="74" fill="#000"/>
<rect x="1050" y="347" width="5" height="34" fill="#000"/>
<rect x="1060" y="339" width="1" height="52" fill="#000"/>
<rect x="1058" y="343" width="5" height="39" fill="#000"/>
<rect x="1059" y="344" width="3" height="37" fill="#fff"/>
<rect x="1068" y="340" width="1" height="14" fill="#000"/>
<rect x="1066" y="343" width="5" height="2" fill="#000"/>
<rect x="1076" y="340" width="1" height="18" fill="#000"/>
<rect x="1074" y="344" width="5" height="3" fill="#000"/>
<rect x="1084" y="344" width="1" height="33" fill="#000"/>
<rect x="1082" y="346" width="5" height="26" fill="#000"/>
<rect x="1092" y="353" width="1" height="36" fill="#000"/>
<rect x="1090" y="362" width="5" height="9" fill="#000"/>
<rect x="1091" y="363" width="3" height="7" fill="#fff"/>
<rect x="1100" y="330" width="1" height="35" fill="#000"/>
<rect x="1098" y="332" width="5" height="31" fill="#000"/>
<rect x="1099" y="333" width="3" height="29" fill="#fff"/>
<rect x="1108" y="319" width="1" height="34" fill="#000"/>
<rect x="1106" y="328" width="5" height="5" fill="#000"/>
<rect x="1107" y="329" width="3" height="3" fill="#fff"/>
<rect x="1116" y="318" width="1" height="23" fill="#000"/>
<rect x="1114" y="328" width="5" height="12" fill="#000"/>
<rect x="1124" y="332" width="1" height="11" fill="#000"/>
<rect x="1122" y="339" width="5" height="3" fill="#000"/>
<rect x="1132" y="333" width="1" height="15" fill="#000"/>
<rect x="1130" y="339" width="5" height="5" fill="#000"/>
<rect x="1140" y="335" width="1" height="27" fill="#000"/>
<rect x="1138" y="341" width="5" height="3" fill="#000"/>
<rect x="1139" y="342" width="3" height="1" fill="#fff"/>
<rect x="1148" y="334" width="1" height="29" fill="#000"/>
<rect x="1146" y="341" width="5" height="9" fill="#000"/>
<rect x="1156" y="335" width="1" height="40" fill="#000"/>
<rect x="1154" y="349" width="5" height="18" fill="#000"/>
<rect x="1164" y="358" width="1" height="24" fill="#000"/>
<rect x="1162" y="366" width="5" height="11" fill="#000"/>
<rect x="1172" y="379" width="1" height="8" fill="#000"/>
<rect x="1170" y="383" width="5" height="1" fill="#000"/>
<rect x="1180" y="375" width="1" height="21" fill="#000"/>
<rect x="1178" y="381" width="5" height="2" fill="#000"/>
<rect x="1188" y="365" width="1" height="31" fill="#000"/>
<rect x="1186" y="381" width="5" height="14" fill="#000"/>
<rect x="1196" y="394" width="1" height="36" fill="#000"/>
<rect x="1194" y="394" width="5" height="29" fill="#000"/>
<rect x="1204" y="420" width="1" height="36" fill="#000"/>
<rect x="1202" y="422" width="5" height="24" fill="#000"/>
<rect x="1212" y="440" width="1" height="21" fill="#000"/>
<rect x="1210" y="444" width="5" height="2" fill="#000"/>
<rect x="1220" y="442" width="1" height="10" fill="#000"/>
<rect x="1218" y="444" width="5" height="2" fill="#000"/>
<rect x="1228" y="435" width="1" height="24" fill="#000"/>
<rect x="1226" y="444" width="5" height="15" fill="#000"/>
<rect x="1236" y="452" width="1" height="88" fill="#000"/>
<rect x="1234" y="458" width="5" height="64" fill="#000"/>
<rect x="1244" y="439" width="1" height="84" fill="#000"/>
<rect x="1242" y="479" width="5" height="44" fill="#000"/>
<rect x="1243" y="480" width="3" height="42" fill="#fff"/>
<rect x="1252" y="441" width="1" height="49" fill="#000"/>
<rect x="1250" y="455" width="5" height="25" fill="#000"/>
<rect x="1251" y="456" width="3" height="23" fill="#fff"/>
<rect x="1260" y="435" width="1" height="23" fill="#000"/>
<rect x="1258" y="444" width="5" height="12" fill="#000"/>
<rect x="1259" y="445" width="3" height="10" fill="#fff"/>
<rect x="1268" y="443" width="1" height="15" fill="#000"/>
<rect x="1266" y="444" width="5" height="10" fill="#000"/>
<rect x="1276" y="425" width="1" height="32" fill="#000"/>
<rect x="1274" y="432" width="5" height="22" fill="#000"/>
<rect x="1275" y="433" width="3" height="20" fill="#fff"/>
<rect x="1284" y="375" width="1" height="63" fill="#000"/>
<rect x="1282" y="382" width="5" height="51" fill="#000"/>
<rect x="1283" y="383" width="3" height="49" fill="#fff"/>
<rect x="1292" y="346" width="1" height="51" fill="#000"/>
<rect x="1290" y="350" width="5" height="33" fill="#000"/>
<rect x="1291" y="351" width="3" height="31" fill="#fff"/>
<rect x="1300" y="346" width="1" height="31" fill="#000"/>
<rect x="1298" y="349" width="5" height="2" fill="#000"/>
<rect x="1308" y="316" width="1" height="36" fill="#000"/>
<rect x="1306" y="317" width="5" height="34" fill="#000"/>
<rect x="1307" y="318" width="3" height="32" fill="#fff"/>
<rect x="1316" y="293" width="1" height="32" fill="#000"/>
<rect x="1314" y="299" width="5" height="20" fill="#000"/>
<rect x="1315" y="300" width="3" height="18" fill="#fff"/>
<rect x="1264" y="327" width="91" height="19" fill="#00ff00"/>
</g>
<rect x="1618" y="233" width="6" height="6" fill="#ff0000"/>
<rect x="1620" y="235" width="2" height="2" fill="#fff"/>
<rect x="1618" y="271" width="6" height="6" fill="#ff4500"/>
<rect x="1620" y="273" width="2" height="2" fill="#fff"/>
<rect x="1618" y="331" width="6" height="6" fill="#32cd32"/>
<rect x="1620" y="333" width="2" height="2" fill="#fff"/>
<rect x="1618" y="370" width="6" height="6" fill="#0000ff"/>
<rect x="1620" y="372" width="2" height="2" fill="#fff"/>
<rect x="1618" y="402" width="6" height="6" fill="#0000ff"/>
<rect x="1620" y="404" width="2" height="2" fill="#fff"/>
<polygon points="1324.5,27 1334.5,27 1329.5,32.5" fill="#c0c0c0"/>
<g font-family="Liberation Sans, sans-serif" font-size="9" stroke="#000" stroke-width="0.25">
<rect x="1625" y="30" width="2" height="1" fill="#000"/>
<text x="1630" y="34" font-size="9" fill="#000">134.400</text>
<rect x="1625" y="63" width="2" height="1" fill="#000"/>
<text x="1630" y="67" font-size="9" fill="#000">133.905</text>
<rect x="1625" y="96" width="2" height="1" fill="#000"/>
<text x="1630" y="100" font-size="9" fill="#000">133.395</text>
<rect x="1625" y="129" width="2" height="1" fill="#000"/>
<text x="1630" y="133" font-size="9" fill="#000">132.900</text>
<rect x="1625" y="162" width="2" height="1" fill="#000"/>
<text x="1630" y="166" font-size="9" fill="#000">132.390</text>
<rect x="1625" y="195" width="2" height="1" fill="#000"/>
<text x="1630" y="199" font-size="9" fill="#000">131.895</text>
<rect x="1625" y="228" width="2" height="1" fill="#000"/>
<text x="1630" y="232" font-size="9" fill="#000">131.385</text>
<rect x="1625" y="261" width="2" height="1" fill="#000"/>
<text x="1630" y="265" font-size="9" fill="#000">130.890</text>
<rect x="1625" y="294" width="2" height="1" fill="#000"/>
<text x="1630" y="298" font-size="9" fill="#000">130.380</text>
<rect x="1625" y="327" width="2" height="1" fill="#000"/>
<text x="1630" y="331" font-size="9" fill="#000">129.885</text>
<rect x="1625" y="360" width="2" height="1" fill="#000"/>
<text x="1630" y="364" font-size="9" fill="#000">129.375</text>
<rect x="1625" y="393" width="2" height="1" fill="#000"/>
<text x="1630" y="397" font-size="9" fill="#000">128.880</text>
<rect x="1625" y="426" width="2" height="1" fill="#000"/>
<text x="1630" y="430" font-size="9" fill="#000">128.370</text>
<rect x="1625" y="459" width="2" height="1" fill="#000"/>
<text x="1630" y="463" font-size="9" fill="#000">127.875</text>
<rect x="1625" y="492" width="2" height="1" fill="#000"/>
<text x="1630" y="496" font-size="9" fill="#000">127.365</text>
<rect x="1625" y="525" width="2" height="1" fill="#000"/>
<text x="1630" y="529" font-size="9" fill="#000">126.870</text>
<rect x="1625" y="558" width="2" height="1" fill="#000"/>
<text x="1630" y="562" font-size="9" fill="#000">126.375</text>
<rect x="1626" y="230" width="41" height="11" fill="#ff0000"/>
<text x="1630" y="239" font-size="9" fill="#fff" stroke="#fff">131.266</text>
<rect x="1626" y="268" width="41" height="11" fill="#ff4500"/>
<text x="1630" y="277" font-size="9" fill="#fff" stroke="#fff">130.689</text>
<rect x="1626" y="328" width="41" height="11" fill="#32cd32"/>
<text x="1630" y="337" font-size="9" fill="#fff" stroke="#fff">129.778</text>
<rect x="1626" y="367" width="41" height="11" fill="#0000ff"/>
<text x="1630" y="376" font-size="9" fill="#fff" stroke="#fff">129.185</text>
<rect x="1626" y="399" width="41" height="11" fill="#0000ff"/>
<text x="1630" y="408" font-size="9" fill="#fff" stroke="#fff">128.699</text>
<rect x="1626" y="294" width="41" height="11" fill="#000"/>
<text x="1630" y="303" font-size="9" fill="#fff" stroke="#fff">130.310</text>
<text x="1628" y="574" font-size="9" fill="#000">0.4714</text>
<text x="1628" y="624" font-size="9" fill="#000">0.00</text>
<text x="1628" y="761" font-size="9" fill="#000">-1.2234</text>
<text x="1628" y="777" font-size="9" fill="#000">100</text>
<text x="1628" y="803" font-size="9" fill="#000">80</text>
<text x="1628" y="850" font-size="9" fill="#000">50</text>
<text x="1628" y="906" font-size="9" fill="#000">15</text>
<text x="1628" y="923" font-size="9" fill="#000">0</text>
<rect x="1625" y="565" width="2" height="1" fill="#000"/>
<rect x="1625" y="620" width="2" height="1" fill="#000"/>
<rect x="1625" y="763" width="2" height="1" fill="#000"/>
<rect x="1625" y="768" width="2" height="1" fill="#000"/>
<rect x="1625" y="925" width="2" height="1" fill="#000"/>
<text x="1" y="576" font-size="9" fill="#000" textLength="129.5">MACD(12,26,9) 0.1396 -0.2524</text>
<text x="0.5" y="779" font-size="9" fill="#000" textLength="67">RSI(14) 67.1848</text>
<text x="11" y="37.6" font-size="9" fill="#000" xml:space="preserve" textLength="200">GBPJPY-,H4&#160; 130.024 130.402 129.923 130.310</text>
<polygon points="0,37 7,37 3.5,33" fill="#000"/>
<rect x="-4" y="927" width="1" height="3" fill="#000"/>
<text x="-4.5" y="939" font-size="9" fill="#000" letter-spacing="0.2">29 Jul 2019</text>
<rect x="60" y="927" width="1" height="3" fill="#000"/>
<text x="59.5" y="939" font-size="9" fill="#000" letter-spacing="0.2">30 Jul 16:00</text>
<rect x="124" y="927" width="1" height="3" fill="#000"/>
<text x="123.5" y="939" font-size="9" fill="#000" letter-spacing="0.2">1 Aug 00:00</text>
<rect x="188" y="927" width="1" height="3" fill="#000"/>
<text x="187.5" y="939" font-size="9" fill="#000" letter-spacing="0.2">2 Aug 08:00</text>
<rect x="252" y="927" width="1" height="3" fill="#000"/>
<text x="251.5" y="939" font-size="9" fill="#000" letter-spacing="0.2">5 Aug 16:00</text>
<rect x="316" y="927" width="1" height="3" fill="#000"/>
<text x="315.5" y="939" font-size="9" fill="#000" letter-spacing="0.2">7 Aug 00:00</text>
<rect x="380" y="927" width="1" height="3" fill="#000"/>
<text x="379.5" y="939" font-size="9" fill="#000" letter-spacing="0.2">8 Aug 08:00</text>
<rect x="444" y="927" width="1" height="3" fill="#000"/>
<text x="443.5" y="939" font-size="9" fill="#000" letter-spacing="0.2">9 Aug 16:00</text>
<rect x="508" y="927" width="1" height="3" fill="#000"/>
<text x="507.5" y="939" font-size="9" fill="#000" letter-spacing="0.2">13 Aug 00:00</text>
<rect x="572" y="927" width="1" height="3" fill="#000"/>
<text x="571.5" y="939" font-size="9" fill="#000" letter-spacing="0.2">14 Aug 08:00</text>
<rect x="636" y="927" width="1" height="3" fill="#000"/>
<text x="635.5" y="939" font-size="9" fill="#000" letter-spacing="0.2">15 Aug 16:00</text>
<rect x="700" y="927" width="1" height="3" fill="#000"/>
<text x="699.5" y="939" font-size="9" fill="#000" letter-spacing="0.2">19 Aug 00:00</text>
<rect x="764" y="927" width="1" height="3" fill="#000"/>
<text x="763.5" y="939" font-size="9" fill="#000" letter-spacing="0.2">20 Aug 08:00</text>
<rect x="828" y="927" width="1" height="3" fill="#000"/>
<text x="827.5" y="939" font-size="9" fill="#000" letter-spacing="0.2">21 Aug 16:00</text>
<rect x="892" y="927" width="1" height="3" fill="#000"/>
<text x="891.5" y="939" font-size="9" fill="#000" letter-spacing="0.2">23 Aug 00:00</text>
<rect x="956" y="927" width="1" height="3" fill="#000"/>
<text x="955.5" y="939" font-size="9" fill="#000" letter-spacing="0.2">26 Aug 08:00</text>
<rect x="1020" y="927" width="1" height="3" fill="#000"/>
<text x="1019.5" y="939" font-size="9" fill="#000" letter-spacing="0.2">27 Aug 16:00</text>
<rect x="1084" y="927" width="1" height="3" fill="#000"/>
<text x="1083.5" y="939" font-size="9" fill="#000" letter-spacing="0.2">29 Aug 00:00</text>
<rect x="1148" y="927" width="1" height="3" fill="#000"/>
<text x="1147.5" y="939" font-size="9" fill="#000" letter-spacing="0.2">30 Aug 08:00</text>
<rect x="1212" y="927" width="1" height="3" fill="#000"/>
<text x="1211.5" y="939" font-size="9" fill="#000" letter-spacing="0.2">2 Sep 16:00</text>
<rect x="1276" y="927" width="1" height="3" fill="#000"/>
<text x="1275.5" y="939" font-size="9" fill="#000" letter-spacing="0.2">4 Sep 00:00</text>
</g>
<g clip-path="url(#c2)">
<rect x="4" y="620" width="1" height="31" fill="#c0c0c0"/>
<rect x="12" y="620" width="1" height="41" fill="#c0c0c0"/>
<rect x="20" y="620" width="1" height="48" fill="#c0c0c0"/>
<rect x="28" y="620" width="1" height="62" fill="#c0c0c0"/>
<rect x="36" y="620" width="1" height="71" fill="#c0c0c0"/>
<rect x="44" y="620" width="1" height="78" fill="#c0c0c0"/>
<rect x="52" y="620" width="1" height="83" fill="#c0c0c0"/>
<rect x="60" y="620" width="1" height="87" fill="#c0c0c0"/>
<rect x="68" y="620" width="1" height="88" fill="#c0c0c0"/>
<rect x="76" y="620" width="1" height="89" fill="#c0c0c0"/>
<rect x="84" y="620" width="1" height="88" fill="#c0c0c0"/>
<rect x="92" y="620" width="1" height="84" fill="#c0c0c0"/>
<rect x="100" y="620" width="1" height="76" fill="#c0c0c0"/>
<rect x="108" y="620" width="1" height="72" fill="#c0c0c0"/>
<rect x="116" y="620" width="1" height="69" fill="#c0c0c0"/>
<rect x="124" y="620" width="1" height="64" fill="#c0c0c0"/>
<rect x="132" y="620" width="1" height="61" fill="#c0c0c0"/>
<rect x="140" y="620" width="1" height="61" fill="#c0c0c0"/>
<rect x="148" y="620" width="1" height="64" fill="#c0c0c0"/>
<rect x="156" y="620" width="1" height="77" fill="#c0c0c0"/>
<rect x="164" y="620" width="1" height="86" fill="#c0c0c0"/>
<rect x="172" y="620" width="1" height="101" fill="#c0c0c0"/>
<rect x="180" y="620" width="1" height="108" fill="#c0c0c0"/>
<rect x="188" y="620" width="1" height="114" fill="#c0c0c0"/>
<rect x="196" y="620" width="1" height="120" fill="#c0c0c0"/>
<rect x="204" y="620" width="1" height="120" fill="#c0c0c0"/>
<rect x="212" y="620" width="1" height="120" fill="#c0c0c0"/>
<rect x="220" y="620" width="1" height="126" fill="#c0c0c0"/>
<rect x="228" y="620" width="1" height="133" fill="#c0c0c0"/>
<rect x="236" y="620" width="1" height="131" fill="#c0c0c0"/>
<rect x="244" y="620" width="1" height="127" fill="#c0c0c0"/>
<rect x="252" y="620" width="1" height="125" fill="#c0c0c0"/>
<rect x="260" y="620" width="1" height="125" fill="#c0c0c0"/>
<rect x="268" y="620" width="1" height="114" fill="#c0c0c0"/>
<rect x="276" y="620" width="1" height="103" fill="#c0c0c0"/>
<rect x="284" y="620" width="1" height="91" fill="#c0c0c0"/>
<rect x="292" y="620" width="1" height="86" fill="#c0c0c0"/>
<rect x="300" y="620" width="1" height="78" fill="#c0c0c0"/>
<rect x="308" y="620" width="1" height="72" fill="#c0c0c0"/>
<rect x="316" y="620" width="1" height="71" fill="#c0c0c0"/>
<rect x="324" y="620" width="1" height="67" fill="#c0c0c0"/>
<rect x="332" y="620" width="1" height="69" fill="#c0c0c0"/>
<rect x="340" y="620" width="1" height="71" fill="#c0c0c0"/>
<rect x="348" y="620" width="1" height="67" fill="#c0c0c0"/>
<rect x="356" y="620" width="1" height="64" fill="#c0c0c0"/>
<rect x="364" y="620" width="1" height="58" fill="#c0c0c0"/>
<rect x="372" y="620" width="1" height="53" fill="#c0c0c0"/>
<rect x="380" y="620" width="1" height="52" fill="#c0c0c0"/>
<rect x="388" y="620" width="1" height="51" fill="#c0c0c0"/>
<rect x="396" y="620" width="1" height="50" fill="#c0c0c0"/>
<rect x="404" y="620" width="1" height="50" fill="#c0c0c0"/>
<rect x="412" y="620" width="1" height="48" fill="#c0c0c0"/>
<rect x="420" y="620" width="1" height="47" fill="#c0c0c0"/>
<rect x="428" y="620" width="1" height="54" fill="#c0c0c0"/>
<rect x="436" y="620" width="1" height="64" fill="#c0c0c0"/>
<rect x="444" y="620" width="1" height="69" fill="#c0c0c0"/>
<rect x="452" y="620" width="1" height="79" fill="#c0c0c0"/>
<rect x="460" y="620" width="1" height="83" fill="#c0c0c0"/>
<rect x="468" y="620" width="1" height="82" fill="#c0c0c0"/>
<rect x="476" y="620" width="1" height="82" fill="#c0c0c0"/>
<rect x="484" y="620" width="1" height="80" fill="#c0c0c0"/>
<rect x="492" y="620" width="1" height="79" fill="#c0c0c0"/>
<rect x="500" y="620" width="1" height="74" fill="#c0c0c0"/>
<rect x="508" y="620" width="1" height="71" fill="#c0c0c0"/>
<rect x="516" y="620" width="1" height="71" fill="#c0c0c0"/>
<rect x="524" y="620" width="1" height="67" fill="#c0c0c0"/>
<rect x="532" y="620" width="1" height="50" fill="#c0c0c0"/>
<rect x="540" y="620" width="1" height="35" fill="#c0c0c0"/>
<rect x="548" y="620" width="1" height="24" fill="#c0c0c0"/>
<rect x="556" y="620" width="1" height="19" fill="#c0c0c0"/>
<rect x="564" y="620" width="1" height="13" fill="#c0c0c0"/>
<rect x="572" y="620" width="1" height="14" fill="#c0c0c0"/>
<rect x="580" y="620" width="1" height="15" fill="#c0c0c0"/>
<rect x="588" y="620" width="1" height="15" fill="#c0c0c0"/>
<rect x="596" y="620" width="1" height="15" fill="#c0c0c0"/>
<rect x="604" y="620" width="1" height="17" fill="#c0c0c0"/>
<rect x="612" y="620" width="1" height="10" fill="#c0c0c0"/>
<rect x="620" y="620" width="1" height="1" fill="#c0c0c0"/>
<rect x="628" y="618" width="1" height="3" fill="#c0c0c0"/>
<rect x="636" y="616" width="1" height="5" fill="#c0c0c0"/>
<rect x="644" y="615" width="1" height="6" fill="#c0c0c0"/>
<rect x="652" y="613" width="1" height="8" fill="#c0c0c0"/>
<rect x="660" y="610" width="1" height="11" fill="#c0c0c0"/>
<rect x="668" y="601" width="1" height="20" fill="#c0c0c0"/>
<rect x="676" y="595" width="1" height="26" fill="#c0c0c0"/>
<rect x="684" y="591" width="1" height="30" fill="#c0c0c0"/>
<rect x="692" y="586" width="1" height="35" fill="#c0c0c0"/>
<rect x="700" y="584" width="1" height="37" fill="#c0c0c0"/>
<rect x="708" y="584" width="1" height="37" fill="#c0c0c0"/>
<rect x="716" y="584" width="1" height="37" fill="#c0c0c0"/>
<rect x="724" y="584" width="1" height="37" fill="#c0c0c0"/>
<rect x="732" y="583" width="1" height="38" fill="#c0c0c0"/>
<rect x="740" y="584" width="1" height="37" fill="#c0c0c0"/>
<rect x="748" y="584" width="1" height="37" fill="#c0c0c0"/>
<rect x="756" y="590" width="1" height="31" fill="#c0c0c0"/>
<rect x="764" y="598" width="1" height="23" fill="#c0c0c0"/>
<rect x="772" y="597" width="1" height="24" fill="#c0c0c0"/>
<rect x="780" y="597" width="1" height="24" fill="#c0c0c0"/>
<rect x="788" y="596" width="1" height="25" fill="#c0c0c0"/>
<rect x="796" y="595" width="1" height="26" fill="#c0c0c0"/>
<rect x="804" y="595" width="1" height="26" fill="#c0c0c0"/>
<rect x="812" y="597" width="1" height="24" fill="#c0c0c0"/>
<rect x="820" y="597" width="1" height="24" fill="#c0c0c0"/>
<rect x="828" y="598" width="1" height="23" fill="#c0c0c0"/>
<rect x="836" y="598" width="1" height="23" fill="#c0c0c0"/>
<rect x="844" y="601" width="1" height="20" fill="#c0c0c0"/>
<rect x="852" y="603" width="1" height="18" fill="#c0c0c0"/>
<rect x="860" y="602" width="1" height="19" fill="#c0c0c0"/>
<rect x="868" y="592" width="1" height="29" fill="#c0c0c0"/>
<rect x="876" y="585" width="1" height="36" fill="#c0c0c0"/>
<rect x="884" y="580" width="1" height="41" fill="#c0c0c0"/>
<rect x="892" y="577" width="1" height="44" fill="#c0c0c0"/>
<rect x="900" y="577" width="1" height="44" fill="#c0c0c0"/>
<rect x="908" y="575" width="1" height="46" fill="#c0c0c0"/>
<rect x="916" y="586" width="1" height="35" fill="#c0c0c0"/>
<rect x="924" y="593" width="1" height="28" fill="#c0c0c0"/>
<rect x="932" y="606" width="1" height="15" fill="#c0c0c0"/>
<rect x="940" y="609" width="1" height="12" fill="#c0c0c0"/>
<rect x="948" y="610" width="1" height="11" fill="#c0c0c0"/>
<rect x="956" y="610" width="1" height="11" fill="#c0c0c0"/>
<rect x="964" y="610" width="1" height="11" fill="#c0c0c0"/>
<rect x="972" y="609" width="1" height="12" fill="#c0c0c0"/>
<rect x="980" y="611" width="1" height="10" fill="#c0c0c0"/>
<rect x="988" y="617" width="1" height="4" fill="#c0c0c0"/>
<rect x="996" y="616" width="1" height="5" fill="#c0c0c0"/>
<rect x="1004" y="614" width="1" height="7" fill="#c0c0c0"/>
<rect x="1012" y="610" width="1" height="11" fill="#c0c0c0"/>
<rect x="1020" y="608" width="1" height="13" fill="#c0c0c0"/>
<rect x="1028" y="607" width="1" height="14" fill="#c0c0c0"/>
<rect x="1036" y="606" width="1" height="15" fill="#c0c0c0"/>
<rect x="1044" y="609" width="1" height="12" fill="#c0c0c0"/>
<rect x="1052" y="614" width="1" height="7" fill="#c0c0c0"/>
<rect x="1060" y="615" width="1" height="6" fill="#c0c0c0"/>
<rect x="1068" y="615" width="1" height="6" fill="#c0c0c0"/>
<rect x="1076" y="616" width="1" height="5" fill="#c0c0c0"/>
<rect x="1084" y="619" width="1" height="2" fill="#c0c0c0"/>
<rect x="1092" y="620" width="1" height="1" fill="#c0c0c0"/>
<rect x="1100" y="619" width="1" height="2" fill="#c0c0c0"/>
<rect x="1108" y="616" width="1" height="5" fill="#c0c0c0"/>
<rect x="1116" y="616" width="1" height="5" fill="#c0c0c0"/>
<rect x="1124" y="615" width="1" height="6" fill="#c0c0c0"/>
<rect x="1132" y="616" width="1" height="5" fill="#c0c0c0"/>
<rect x="1140" y="617" width="1" height="4" fill="#c0c0c0"/>
<rect x="1148" y="617" width="1" height="4" fill="#c0c0c0"/>
<rect x="1156" y="620" width="1" height="1" fill="#c0c0c0"/>
<rect x="1164" y="620" width="1" height="4" fill="#c0c0c0"/>
<rect x="1172" y="620" width="1" height="7" fill="#c0c0c0"/>
<rect x="1180" y="620" width="1" height="10" fill="#c0c0c0"/>
<rect x="1188" y="620" width="1" height="15" fill="#c0c0c0"/>
<rect x="1196" y="620" width="1" height="22" fill="#c0c0c0"/>
<rect x="1204" y="620" width="1" height="29" fill="#c0c0c0"/>
<rect x="1212" y="620" width="1" height="36" fill="#c0c0c0"/>
<rect x="1220" y="620" width="1" height="41" fill="#c0c0c0"/>
<rect x="1228" y="620" width="1" height="46" fill="#c0c0c0"/>
<rect x="1236" y="620" width="1" height="57" fill="#c0c0c0"/>
<rect x="1244" y="620" width="1" height="60" fill="#c0c0c0"/>
<rect x="1252" y="620" width="1" height="58" fill="#c0c0c0"/>
<rect x="1260" y="620" width="1" height="56" fill="#c0c0c0"/>
<rect x="1268" y="620" width="1" height="52" fill="#c0c0c0"/>
<rect x="1276" y="620" width="1" height="47" fill="#c0c0c0"/>
<rect x="1284" y="620" width="1" height="36" fill="#c0c0c0"/>
<rect x="1292" y="620" width="1" height="22" fill="#c0c0c0"/>
<rect x="1300" y="620" width="1" height="9" fill="#c0c0c0"/>
<rect x="1308" y="618" width="1" height="3" fill="#c0c0c0"/>
<rect x="1316" y="604" width="1" height="17" fill="#c0c0c0"/>
<path transform="translate(0,.5)" d="M750 584h3M924 584h3M744 585h3M757 585h2M762 585h3M918 585h3M930 585h3M738 586h2M768 586h3M912 586h3M937 586h2M732 587h2M774 587h3M943 587h2M727 588h2M780 588h3M906 588h2M786 589h3M948 589h2M792 590h3M900 590h3M720 591h2M798 591h3M895 591h2M804 592h3M955 592h2M715 593h2M810 593h3M888 593h2M816 594h3M882 594h3M960 594h2M822 595h3M709 596h2M828 596h3M834 596h3M840 596h3M864 596h3M870 596h3M876 596h2M846 597h3M852 597h3M858 597h3M966 597h2M702 599h3M973 600h2M696 602h2M979 603h2M690 605h2M985 606h2M990 608h3M996 610h3M1002 610h3M1032 610h3M1038 610h3M1056 610h3M1062 610h3M1068 610h3M1074 610h3M1080 610h3M679 611h2M1009 611h2M1014 611h3M1020 611h3M1026 611h3M1044 611h3M1050 611h3M1087 612h2M1092 613h3M1098 614h3M1104 614h3M672 615h2M1110 615h3M1116 615h3M1122 615h3M1128 615h3M1134 615h3M1140 616h3M1146 616h3M1152 616h3M1158 616h3M1164 616h2M1170 617h3M666 618h2M1176 618h3M1182 620h2M660 621h2M654 623h2M1188 623h3M648 625h2M1195 625h2M642 627h3M1200 627h3M636 629h3M630 630h3M1207 630h2M624 632h3M619 634h2M613 636h2M1219 637h2M606 638h2M601 640h2M1225 640h2M594 644h2M588 648h2M1242 653h2M1253 662h2M1301 663h2M1259 665h3M1296 666h2M565 667h2M1265 667h2M1271 669h3M1289 669h3M1277 670h3M1283 671h3M426 672h3M421 673h2M432 673h3M438 674h3M414 675h3M444 675h3M409 676h2M451 677h2M552 678h2M402 679h2M456 679h2M396 681h3M390 682h3M462 682h2M384 683h3M378 685h3M468 685h2M372 687h2M475 688h2M540 688h2M366 689h2M480 690h2M73 691h2M157 691h2M162 691h3M360 691h2M150 692h3M168 692h3M534 692h2M354 693h3M486 693h2M78 694h2M144 694h2M139 695h2M349 695h2M528 695h2M493 696h2M498 697h3M504 697h2M522 697h3M132 698h2M343 698h2M510 698h3M181 699h2M516 699h3M126 700h3M90 701h2M337 701h2M120 702h2M186 702h2M96 703h3M114 703h3M102 704h3M108 704h3M193 706h2M319 714h2M312 719h2M307 723h2M217 726h2M229 735h2M289 737h2M234 738h2M283 740h2M240 741h2M276 743h3M247 744h2M252 745h3M270 745h3M258 746h3M264 746h3" stroke="#ff0000" fill="none"/><path transform="translate(.5,0)" d="M2 620v1M3 621v1M4 622v1M8 625v1M9 626v1M10 627v1M14 630v1M15 631v1M16 632v1M20 636v1M21 637v1M22 638v1M26 642v1M27 643v1M28 644v1M32 648v1M33 649v1M34 650v1M37 654v1M38 655v1M39 656v1M43 660v1M44 661v1M45 662v1M49 666v1M50 667v1M51 668v1M54 672v1M55 673v1M56 674v1M60 678v1M61 679v1M62 680v1M66 684v1M67 685v1M68 686v1M72 690v1M80 695v1M84 697v1M85 698v1M86 699v1M92 702v1M122 701v1M134 697v1M138 696v1M146 693v1M156 692v1M174 694v1M175 695v1M176 696v1M180 698v1M188 703v1M192 705v1M198 710v1M199 711v1M200 712v1M204 715v1M205 716v1M206 717v1M210 720v1M211 721v1M212 722v1M216 725v1M222 729v1M223 730v1M224 731v1M228 734v1M236 739v1M242 742v1M246 743v1M282 741v1M288 738v1M294 735v1M295 734v1M296 733v1M300 730v1M301 729v1M302 728v1M306 724v1M314 718v1M318 715v1M324 711v1M325 710v1M326 709v1M330 706v1M331 705v1M332 704v1M336 702v1M342 699v1M348 696v1M362 690v1M368 688v1M374 686v1M404 678v1M408 677v1M420 674v1M450 676v1M458 680v1M464 683v1M470 686v1M474 687v1M482 691v1M488 694v1M492 695v1M506 698v1M530 694v1M536 691v1M542 687v1M546 684v1M547 683v1M548 682v1M554 677v1M558 673v1M559 672v1M560 671v1M564 668v1M570 663v1M571 662v1M572 661v1M576 658v1M577 657v1M578 656v1M582 653v1M583 652v1M584 651v1M590 647v1M596 643v1M600 641v1M608 637v1M612 637v1M618 635v1M650 624v1M656 622v1M662 620v1M668 617v1M674 614v1M678 612v1M684 609v1M685 608v1M686 607v1M692 604v1M698 601v1M708 597v1M714 594v1M722 590v1M726 589v1M734 586v1M740 585v1M756 584v1M878 595v1M890 592v1M894 592v1M908 587v1M936 585v1M942 586v1M950 590v1M954 591v1M962 595v1M968 598v1M972 599v1M978 602v1M984 605v1M1008 610v1M1086 611v1M1166 617v1M1184 621v1M1194 624v1M1206 629v1M1212 632v1M1213 633v1M1214 634v1M1218 636v1M1224 639v1M1230 642v1M1231 643v1M1232 644v1M1235 648v1M1236 649v1M1237 650v1M1241 652v1M1247 656v1M1248 657v1M1249 658v1M1255 663v1M1267 668v1M1295 667v1M1303 662v1M1307 658v1M1308 657v1M1309 656v1M1313 652v1M1314 651v1M1315 650v1" stroke="#ff0000" fill="none"/>
</g>
<g clip-path="url(#c3)">
<line x1="3" y1="799.5" x2="1624" y2="799.5" stroke="#c0c0c0" stroke-width="1" stroke-dasharray="3 3"/>
<line x1="3" y1="846.5" x2="1624" y2="846.5" stroke="#c0c0c0" stroke-width="1" stroke-dasharray="3 3"/>
<line x1="3" y1="902.5" x2="1624" y2="902.5" stroke="#c0c0c0" stroke-width="1" stroke-dasharray="3 3"/>
<path transform="translate(0,.5)" d="M873 815h13M868 816h5M886 816h3M889 817h2M891 818h2M1314 820h2M907 821h2M1312 821h2M1310 822h2M1308 823h2M668 824h2M692 824h2M903 824h2M670 825h3M690 825h2M694 825h2M673 826h2M688 826h2M696 826h2M675 827h6M686 827h2M698 827h2M731 827h2M1303 827h2M681 828h5M729 828h2M733 828h2M701 829h2M726 829h3M735 829h2M703 830h2M721 830h5M747 830h2M1292 830h9M715 831h6M738 831h2M743 831h4M706 832h2M711 832h4M740 832h3M794 832h2M797 832h2M621 833h2M708 833h3M791 834h2M532 835h13M789 835h2M801 835h2M545 836h4M625 836h2M772 836h17M820 836h5M657 837h2M804 837h2M818 837h2M825 837h12M1012 837h3M628 838h3M806 838h3M816 838h2M1010 838h2M1015 838h4M631 839h4M809 839h2M814 839h2M1008 839h2M1019 839h6M1033 839h4M1105 839h5M635 840h3M653 840h2M811 840h3M1006 840h2M1025 840h8M1100 840h5M1110 840h3M563 841h2M638 841h3M651 841h2M1004 841h2M1113 841h2M561 842h2M641 842h2M647 842h4M969 842h5M1002 842h2M1039 842h2M1115 842h4M558 843h3M643 843h4M850 843h2M955 843h14M974 843h2M1000 843h2M1119 843h4M556 844h2M848 844h2M951 844h4M976 844h2M998 844h2M1060 844h5M1123 844h6M1137 844h5M846 845h2M947 845h4M978 845h2M996 845h2M1065 845h8M1129 845h8M1142 845h2M844 846h2M943 846h4M1073 846h4M1144 846h2M940 847h3M1146 847h2M757 849h2M1079 849h2M1091 850h2M921 851h2M1089 851h2M1151 851h2M761 852h2M1086 852h3M364 853h5M572 853h5M585 853h16M763 853h2M1084 853h2M369 854h4M577 854h8M601 854h4M916 854h3M1156 855h2M283 856h2M1158 856h2M281 857h2M285 857h2M300 857h2M375 857h2M1160 857h2M278 858h3M298 858h2M302 858h3M1162 858h2M273 859h5M305 859h2M348 859h3M1164 859h3M1259 859h3M268 860h5M289 860h2M295 860h2M307 860h2M351 860h4M1167 860h4M1177 860h4M1257 860h2M1262 860h3M293 861h2M309 861h2M321 861h2M355 861h2M380 861h19M411 861h4M1171 861h6M1181 861h2M1254 861h3M1265 861h2M311 862h2M399 862h4M407 862h4M415 862h4M1183 862h2M1252 862h2M1267 862h2M403 863h4M419 863h2M100 864h2M314 864h2M317 864h2M1186 864h2M125 866h2M500 866h5M332 867h2M498 867h2M505 867h4M334 868h3M496 868h2M509 868h2M129 869h2M337 869h2M484 869h5M494 869h2M339 870h2M482 870h2M489 870h5M108 871h3M132 871h2M468 871h2M513 871h2M111 872h4M134 872h2M470 872h3M479 872h2M115 873h2M136 873h2M473 873h2M477 873h2M138 874h2M475 874h2M1197 875h2M141 876h2M429 876h2M1201 878h2M145 879h2M236 879h13M433 879h2M1217 879h5M249 880h4M441 880h4M1204 880h13M1222 880h2M253 881h2M436 881h5M445 881h2M1224 881h2M255 882h2M457 882h2M1226 882h2M258 884h3M449 884h2M453 885h2M0 888h2M2 889h2M204 889h5M4 890h2M87 890h2M209 890h4M6 891h3M213 891h2M9 892h2M17 892h4M215 892h2M11 893h6M180 893h5M199 893h2M185 894h6M218 894h2M1235 894h2M81 895h2M156 895h5M191 895h4M220 895h2M161 896h4M195 896h2M222 896h2M36 897h3M165 897h2M224 897h2M34 898h2M39 898h4M59 898h6M77 898h2M167 898h2M226 898h3M32 899h2M43 899h6M55 899h4M65 899h12M30 900h2M49 900h6M170 900h2M28 901h2" stroke="#1e90ff" fill="none"/><path transform="translate(.5,0)" d="M21 893v1M22 894v1M23 895v1M24 896v2M25 898v1M26 899v1M27 900v1M79 897v1M80 896v1M83 894v1M84 893v1M85 892v1M86 891v1M89 889v1M90 888v1M91 887v1M92 885v2M93 882v3M94 879v3M95 876v3M96 874v2M97 871v3M98 868v3M99 865v3M100 863v1M102 865v1M103 866v1M104 867v1M105 868v1M106 869v1M107 870v1M117 872v1M118 871v1M119 870v1M120 869v1M121 868v1M122 867v1M123 866v1M124 865v1M127 867v1M128 868v1M131 870v1M140 875v1M143 877v1M144 878v1M147 880v1M148 881v1M149 882v2M150 884v2M151 886v2M152 888v1M153 889v2M154 891v2M155 893v2M169 899v1M172 901v1M173 900v1M174 899v1M175 898v1M176 897v1M177 896v1M178 895v1M179 894v1M197 895v1M198 894v1M201 892v1M202 891v1M203 890v1M217 893v1M228 899v1M229 896v2M230 893v3M231 891v2M232 888v3M233 886v2M234 883v3M235 881v2M236 880v1M257 883v1M260 885v1M261 881v3M262 878v3M263 875v3M264 871v4M265 868v3M266 865v3M267 862v3M268 861v1M287 858v1M288 859v1M291 861v1M292 862v1M297 859v1M313 863v1M316 865v1M319 863v1M320 862v1M323 860v1M324 859v1M325 860v1M326 861v1M327 862v1M328 863v1M329 864v1M330 865v1M331 866v1M341 868v2M342 867v1M343 866v1M344 864v2M345 863v1M346 862v1M347 860v2M357 860v1M358 859v1M359 858v1M360 857v1M361 856v1M362 855v1M363 854v1M373 855v1M374 856v1M377 858v1M378 859v1M379 860v1M421 864v2M422 866v1M423 867v2M424 869v1M425 870v2M426 872v1M427 873v2M428 875v1M431 877v1M432 878v1M435 880v1M447 882v1M448 883v1M451 885v1M452 886v1M455 884v1M456 883v1M459 881v1M460 880v1M461 879v1M462 878v1M463 877v1M464 875v2M465 874v1M466 873v1M467 872v1M481 871v1M511 869v1M512 870v1M515 872v1M516 873v1M517 872v1M518 871v1M519 870v1M520 869v1M521 868v1M522 867v1M523 866v1M524 864v2M525 860v4M526 856v4M527 852v4M528 849v3M529 845v4M530 841v4M531 837v4M532 836v1M549 837v1M550 838v1M551 839v1M552 840v1M553 841v1M554 842v1M555 843v1M565 842v2M566 844v1M567 845v2M568 847v1M569 848v2M570 850v1M571 851v2M605 852v2M606 850v2M607 848v2M608 847v1M609 845v2M610 843v2M611 841v2M612 840v1M613 839v1M614 838v1M615 837v1M616 836v1M617 835v1M618 834v1M619 833v1M620 832v1M623 834v1M624 835v1M627 837v1M655 839v1M656 838v1M659 836v1M660 835v1M661 833v2M662 832v1M663 831v1M664 829v2M665 828v1M666 827v1M667 825v2M700 828v1M705 831v1M737 830v1M748 831v1M749 832v2M750 834v2M751 836v2M752 838v3M753 841v2M754 843v2M755 845v2M756 847v2M759 850v1M760 851v1M764 854v1M765 851v2M766 849v2M767 847v2M768 844v3M769 842v2M770 840v2M771 838v2M772 837v1M793 833v1M796 831v1M799 833v1M800 834v1M803 836v1M837 838v1M838 839v1M839 840v1M840 841v2M841 843v1M842 844v1M843 845v1M852 842v1M853 841v1M854 840v1M855 839v1M856 837v2M857 836v1M858 835v1M859 834v1M860 832v2M861 830v2M862 828v2M863 826v2M864 824v2M865 822v2M866 820v2M867 818v2M868 817v1M893 819v1M894 820v1M895 821v1M896 822v2M897 824v1M898 825v1M899 826v1M900 827v1M901 826v1M902 825v1M905 823v1M906 822v1M908 820v1M908 822v1M909 823v4M910 827v4M911 831v5M912 836v4M913 840v5M914 845v4M915 849v4M916 853v1M916 855v1M919 853v1M920 852v1M923 850v1M924 849v1M925 850v2M926 852v2M927 854v1M928 855v2M929 857v1M930 858v2M931 860v2M932 862v1M933 860v2M934 858v2M935 856v2M936 854v2M937 852v2M938 850v2M939 848v2M980 846v1M981 847v1M982 848v1M983 849v1M984 850v2M985 852v1M986 853v1M987 854v1M988 855v1M989 854v1M990 852v2M991 851v1M992 850v1M993 849v1M994 847v2M995 846v1M1037 840v1M1038 841v1M1041 843v1M1042 844v1M1043 845v1M1044 846v1M1045 847v2M1046 849v1M1047 850v1M1048 851v2M1049 853v1M1050 854v1M1051 855v2M1052 857v1M1053 855v2M1054 853v2M1055 852v1M1056 850v2M1057 849v1M1058 847v2M1059 845v2M1077 847v1M1078 848v1M1081 850v1M1082 851v1M1083 852v1M1093 849v1M1094 847v2M1095 846v1M1096 845v1M1097 844v1M1098 842v2M1099 841v1M1148 848v1M1149 849v1M1150 850v1M1153 852v1M1154 853v1M1155 854v1M1185 863v1M1188 865v1M1189 866v1M1190 867v1M1191 868v1M1192 869v2M1193 871v1M1194 872v1M1195 873v1M1196 874v1M1199 876v1M1200 877v1M1203 879v1M1228 883v1M1229 884v2M1230 886v1M1231 887v2M1232 889v1M1233 890v2M1234 892v1M1235 893v1M1236 895v1M1237 892v2M1238 889v3M1239 886v3M1240 884v2M1241 881v3M1242 878v3M1243 876v2M1244 874v2M1245 872v2M1246 871v1M1247 869v2M1248 868v1M1249 866v2M1250 865v1M1251 863v2M1269 861v1M1270 860v1M1271 859v1M1272 858v1M1273 857v1M1274 856v1M1275 855v1M1276 853v2M1277 851v2M1278 849v2M1279 847v2M1280 845v2M1281 843v2M1282 841v2M1283 839v2M1284 838v1M1285 837v1M1286 836v1M1287 835v1M1288 834v1M1289 833v1M1290 832v1M1291 831v1M1301 829v1M1302 828v1M1305 826v1M1306 825v1M1307 824v1M1316 819v1" stroke="#1e90ff" fill="none"/>
</g>
<rect x="1469" y="334" width="8" height="1" fill="#ff0000"/>
<rect x="1474" y="332" width="4" height="5" fill="#ff0000"/>
<rect x="1475" y="333" width="2" height="3" fill="#fff"/>
<rect x="1479.5" y="318.5" width="99" height="32" fill="#fff" stroke="#ff0000" stroke-width="1"/>
<text x="1481" y="345" font-size="30" fill="#ff0000" font-family="Liberation Sans, sans-serif" textLength="96" lengthAdjust="spacingAndGlyphs">129.778</text>
<text x="1369" y="469" font-size="30.5" fill="#00ff00" textLength="161" style="font-family:'Liberation Serif','Noto Serif CJK SC',serif;font-weight:600;text-shadow:1px 1px 0 #0a1464">多空转折点</text>
<rect x="0" y="46" width="219" height="65" fill="#fff"/>
<rect x="0" y="46" width="51" height="24" fill="url(#gb1)"/>
<rect x="166" y="46" width="52" height="24" fill="url(#gb1)"/>
<rect x="0" y="70" width="108" height="40" fill="url(#gb2)"/>
<rect x="110" y="70" width="108" height="40" fill="url(#gb2)"/>
<rect x="3" y="69" width="44" height="1" fill="#9a9af5"/>
<rect x="171" y="69" width="44" height="1" fill="#9a9af5"/>
<rect x="52.5" y="46.5" width="112" height="22" fill="#fff" stroke="#c8c8c8"/>
<rect x="53.5" y="47.5" width="20" height="20" fill="#ececec" stroke="#b4b4b4"/>
<rect x="142.5" y="47.5" width="20" height="20" fill="#ececec" stroke="#b4b4b4"/>
<polygon points="61,56 67,56 64,59" fill="#000"/>
<polygon points="150,59 156,59 153,56" fill="#000"/>
<g font-family="Liberation Sans, sans-serif" fill="#fff">
<text x="11.8" y="62" font-size="13" fill="#fff" textLength="25.2" lengthAdjust="spacingAndGlyphs">SELL</text>
<text x="179.8" y="62" font-size="13" fill="#fff" textLength="22.4" lengthAdjust="spacingAndGlyphs">BUY</text>
<text x="139" y="61.5" font-size="12.5" fill="#000" text-anchor="end">1.00</text>
<text x="22.3" y="101" font-size="12.5" fill="#fff" font-weight="700">130</text>
<text x="48" y="101" font-size="33" fill="#fff" textLength="31" lengthAdjust="spacingAndGlyphs">31</text>
<text x="86.3" y="85" font-size="12" fill="#fff" font-weight="700">0</text>
<text x="132.5" y="101" font-size="12.5" fill="#fff" font-weight="700">130</text>
<text x="157" y="101" font-size="33" fill="#fff">39</text>
<text x="197" y="85" font-size="12" fill="#fff" font-weight="700">1</text>
</g>
</svg>
<svg width="1671" height="24" viewBox="0 0 1671 24">
<rect x="0" y="0" width="1671" height="22" fill="#f0f0f0"/><rect x="0" y="21" width="1671" height="1" fill="#f7f7f7"/>
<rect x="0" y="22" width="1671" height="1" fill="#a3a3a3"/>
<rect x="0" y="23" width="1671" height="1" fill="#6b6b6b"/>
<path d="M-3,2.5 H3.5 L7,6 V13.5 H-3 Z" fill="#fff" stroke="#8a8a8a"/><path d="M3.5,2.5 V6 H7" fill="none" stroke="#8a8a8a" stroke-width="0.8"/>
<path d="M-2,7.5 H3 M-2,9.5 H2" stroke="#b0b0b0" stroke-width="0.8"/>
<path d="M3.2,8.5 h3.6 v3.7 h3.9 v3.6 h-3.9 v3.7 h-3.6 v-3.7 h-3.9 v-3.6 h3.9 z" fill="#2fc12f" stroke="#128a12" stroke-width="0.7"/>
<text x="14" y="13" font-size="12" fill="#000" font-family="Liberation Sans, Noto Sans CJK SC, sans-serif">新订单</text>
<defs><linearGradient id="gold" x1="0" y1="0" x2="1" y2="1"><stop offset="0" stop-color="#f7df7a"/><stop offset="0.5" stop-color="#e2aa22"/><stop offset="1" stop-color="#c98a10"/></linearGradient></defs>
<path d="M62.3,11.3 L68.3,3.3 L77.8,10 L71.3,16.3 Z" fill="url(#gold)" stroke="#a8740e" stroke-width="0.8"/>
<path d="M62.3,11.3 L71.3,16.3 L77.8,10 L77.8,11.8 L71.3,18 L62.3,12.8 Z" fill="#d9a040" stroke="#9a6a10" stroke-width="0.6"/>
<path d="M92.5,4.5 L95,2.5 H103 V11.5 H92.5 Z" fill="#2f8fe6" stroke="#1c62b4" stroke-width="0.8"/>
<rect x="96.5" y="5" width="5.5" height="1.3" fill="#cfe6fb"/><rect x="96.5" y="7.5" width="5.5" height="1.3" fill="#cfe6fb"/>
<path d="M93,17.3 a3,3 0 0 1 -0.4,-5.8 a3.6,3.6 0 0 1 6.4,-0.9 a3,3 0 0 1 4.6,1.6 a2.6,2.6 0 0 1 -0.4,5.1 z" fill="#e8f0fa" stroke="#6e8fc4" stroke-width="0.9"/>
<path d="M126,2.3 a7.7,7.7 0 0 0 0,15.4" fill="none" stroke="#7a9fe0" stroke-width="1.1"/><path d="M126,5 a5,5 0 0 0 0,10" fill="none" stroke="#5f88d6" stroke-width="1.1"/>
<path d="M126,2.3 a7.7,7.7 0 0 1 6,12.5" fill="none" stroke="#a8c9a8" stroke-width="1.1"/><path d="M126,5 a5,5 0 0 1 4,8" fill="none" stroke="#8fc08f" stroke-width="1.1"/>
<path d="M126,10 V17.8 a7.8,7.8 0 0 0 6,-3 a5,5 0 0 1 -4.5,-1 Z" fill="#3fae45" stroke="#2f8f3a" stroke-width="0.5"/><circle cx="126" cy="9.8" r="2" fill="#2b59c3"/>
<path d="M147,8.5 L160,8.5 L156.5,16.8 L151.5,17.3 Z" fill="#f5cf52" stroke="#c99a1c" stroke-width="0.7"/>
<ellipse cx="153" cy="6.8" rx="8" ry="2.6" fill="#5d9bd8" stroke="#3a74b6" stroke-width="0.7"/>
<ellipse cx="153" cy="4.8" rx="4" ry="2.6" fill="#79b2e6" stroke="#3a74b6" stroke-width="0.6"/>
<circle cx="157.5" cy="13.6" r="4.1" fill="#e02020" stroke="#a00c0c" stroke-width="0.6"/><rect x="155.9" y="12" width="3.2" height="3.2" fill="#fff"/>
<text x="167" y="13" font-size="12" fill="#000" font-family="Liberation Sans, Noto Sans CJK SC, sans-serif" textLength="46">自动交易</text>
<rect x="221" y="0" width="1" height="22" fill="#a0a0a0"/>
<rect x="225" y="2" width="3" height="1" fill="#b4b4b4"/>
<rect x="225" y="4" width="3" height="1" fill="#b4b4b4"/>
<rect x="225" y="6" width="3" height="1" fill="#b4b4b4"/>
<rect x="225" y="8" width="3" height="1" fill="#b4b4b4"/>
<rect x="225" y="10" width="3" height="1" fill="#b4b4b4"/>
<rect x="225" y="12" width="3" height="1" fill="#b4b4b4"/>
<rect x="225" y="14" width="3" height="1" fill="#b4b4b4"/>
<rect x="225" y="16" width="3" height="1" fill="#b4b4b4"/>
<rect x="225" y="18" width="3" height="1" fill="#b4b4b4"/>
<path d="M238.5,4 V17.5 M236.5,15.5 H251" stroke="#444" stroke-width="1" fill="none"/>
<path d="M237,6 L238.5,4 L240,6 M249.5,14 L251,15.5 L249.5,17" stroke="#444" stroke-width="0.8" fill="none"/>
<path d="M246.5,6 V13 M246.5,7 H249 M244.5,12 H246.5" stroke="#1e9e3a" stroke-width="1.4" fill="none"/>
<rect x="259" y="1" width="1" height="19" fill="#a0a0a0"/>
<rect x="261" y="0" width="23" height="21" fill="#f7f7f7"/>
<path d="M266.5,4 V17.5 M264.5,15.5 H279" stroke="#444" stroke-width="1" fill="none"/>
<path d="M265,6 L266.5,4 L268,6 M277.5,14 L279,15.5 L277.5,17" stroke="#444" stroke-width="0.8" fill="none"/>
<path d="M275,3 V14" stroke="#157a2b" stroke-width="1"/><rect x="273" y="5" width="4" height="7" fill="#23b442" stroke="#157a2b" stroke-width="0.8"/>
<path d="M294.5,4 V17.5 M292.5,15.5 H307" stroke="#444" stroke-width="1" fill="none"/>
<path d="M293,6 L294.5,4 L296,6 M305.5,14 L307,15.5 L305.5,17" stroke="#444" stroke-width="0.8" fill="none"/>
<path d="M296,13 Q300,3 306,11" stroke="#1e9e3a" stroke-width="1.3" fill="none"/>
<rect x="316" y="1" width="1" height="19" fill="#a0a0a0"/>
<path d="M335,11 L340,16" stroke="#d9a520" stroke-width="3" stroke-linecap="round"/>
<circle cx="331" cy="7.5" r="5.2" fill="#d9ebfb" stroke="#4d8fd6" stroke-width="1.5"/>
<path d="M328,7.5 H334" stroke="#2a6fc0" stroke-width="1.6"/>
<path d="M331,4.5 V10.5" stroke="#2a6fc0" stroke-width="1.6"/>
<path d="M363,11 L368,16" stroke="#d9a520" stroke-width="3" stroke-linecap="round"/>
<circle cx="359" cy="7.5" r="5.2" fill="#d9ebfb" stroke="#4d8fd6" stroke-width="1.5"/>
<path d="M356,7.5 H362" stroke="#2a6fc0" stroke-width="1.6"/>
<rect x="381.5" y="2" width="7.5" height="7.5" fill="#4caf32"/><rect x="389.5" y="2" width="7.5" height="7.5" fill="#2f6fd6"/>
<rect x="381.5" y="10" width="7.5" height="7.5" fill="#2f6fd6"/><rect x="389.5" y="10" width="7.5" height="7.5" fill="#4caf32"/>
<rect x="383" y="5" width="4.5" height="3" fill="#fff" opacity="0.9"/>
<rect x="391" y="5" width="4.5" height="3" fill="#fff" opacity="0.9"/>
<rect x="383" y="13" width="4.5" height="3" fill="#fff" opacity="0.9"/>
<rect x="391" y="13" width="4.5" height="3" fill="#fff" opacity="0.9"/>
<rect x="406" y="1" width="1" height="19" fill="#a0a0a0"/>
<rect x="411" y="1" width="1" height="19" fill="#a0a0a0"/>
<path d="M418.5,4 V17.5 M416.5,15.5 H431" stroke="#444" stroke-width="1" fill="none"/>
<path d="M417,6 L418.5,4 L420,6 M429.5,14 L431,15.5 L429.5,17" stroke="#444" stroke-width="0.8" fill="none"/>
<polygon points="425,6 425,13 429.5,9.5" fill="none" stroke="#1e9e3a" stroke-width="1.2"/>
<rect x="439" y="1" width="1" height="19" fill="#a0a0a0"/>
<path d="M446.5,4 V17.5 M444.5,15.5 H459" stroke="#444" stroke-width="1" fill="none"/>
<path d="M445,6 L446.5,4 L448,6 M457.5,14 L459,15.5 L457.5,17" stroke="#444" stroke-width="0.8" fill="none"/>
<path d="M453.5,4 V14" stroke="#2a6fc0" stroke-width="1"/><path d="M458,9.5 H454.5 M456.5,7.5 L454.5,9.5 L456.5,11.5" stroke="#d33a1a" stroke-width="1.1" fill="none"/>
<rect x="468" y="1" width="1" height="19" fill="#a0a0a0"/>
<path d="M479,2.5 H485 L488,5.5 V15 H479 Z" fill="#fff" stroke="#8a8a8a"/>
<text x="481" y="11" font-size="8" fill="#555" font-family="Liberation Serif, serif" font-style="italic">f</text>
<path d="M483.5,11.7 h3.7 v-3.7 h3.6 v3.7 h3.7 v3.6 h-3.7 v3.7 h-3.6 v-3.7 h-3.7 z" fill="#2fc12f" stroke="#128a12" stroke-width="0.7"/>
<polygon points="500.0,9 505.0,9 502.5,12" fill="#000"/>
<circle cx="524" cy="9.5" r="7" fill="#eaf3fc" stroke="#2a62c4" stroke-width="2"/>
<path d="M524,5 V10 H527.5" stroke="#444" stroke-width="1" fill="none"/>
<polygon points="539.0,9 544.0,9 541.5,12" fill="#000"/>
<rect x="555.5" y="3.5" width="15" height="13" fill="#fff" stroke="#3a6fc8" stroke-width="1"/><rect x="555.5" y="3.5" width="15" height="2.5" fill="#3a6fc8"/>
<path d="M557,9 l3,-1 l3,1 l3,-1.5 l3,0.5" stroke="#c0301c" stroke-width="1" fill="none"/><path d="M557,14 l3,-1 l3,1 l3,-1.5 l3,1" stroke="#1e9e3a" stroke-width="1" fill="none"/>
<polygon points="578.0,9 583.0,9 580.5,12" fill="#000"/>
<rect x="589" y="0" width="1" height="22" fill="#a0a0a0"/>
<rect x="593" y="2" width="3" height="1" fill="#b4b4b4"/>
<rect x="593" y="4" width="3" height="1" fill="#b4b4b4"/>
<rect x="593" y="6" width="3" height="1" fill="#b4b4b4"/>
<rect x="593" y="8" width="3" height="1" fill="#b4b4b4"/>
<rect x="593" y="10" width="3" height="1" fill="#b4b4b4"/>
<rect x="593" y="12" width="3" height="1" fill="#b4b4b4"/>
<rect x="593" y="14" width="3" height="1" fill="#b4b4b4"/>
<rect x="593" y="16" width="3" height="1" fill="#b4b4b4"/>
<rect x="593" y="18" width="3" height="1" fill="#b4b4b4"/>
<rect x="599" y="1" width="1" height="19" fill="#a0a0a0"/>
<rect x="600" y="0" width="24" height="21" fill="#f7f7f7"/>
<path d="M607,3 L607,16 L610,13 L612.5,18 L614.5,17 L612,12 L616,12 Z" fill="#333"/>
<path d="M639.5,3 V17 M632,10.5 H647" stroke="#444" stroke-width="1"/><rect x="639" y="10" width="1" height="1" fill="#f0f0f0"/>
<rect x="656" y="1" width="1" height="19" fill="#a0a0a0"/>
<path d="M673.5,4 V17" stroke="#444" stroke-width="1"/>
<path d="M696,10.5 H709" stroke="#444" stroke-width="1"/>
<path d="M724,17 L737,5" stroke="#444" stroke-width="1.2"/>
<path d="M750,14 L763,4 M750,17 L763,8 M752,9 L764,0.5" stroke="#444" stroke-width="0.9"/><path d="M754,8 V16 M758,5 V13 M761,3 V10" stroke="#444" stroke-width="0.7"/>
<text x="760" y="19" font-size="6.5" font-weight="700" fill="#333" font-family="Liberation Sans, sans-serif">E</text>
<path d="M779,3.5 H792" stroke="#444" stroke-width="1" stroke-dasharray="1 1"/>
<path d="M779,6.5.5 H792" stroke="#444" stroke-width="1" stroke-dasharray="1 1"/>
<path d="M779,10.5 H792" stroke="#444" stroke-width="1" stroke-dasharray="1 1"/>
<path d="M779,14.5 H792" stroke="#444" stroke-width="1" stroke-dasharray="1 1"/>
<text x="788" y="19" font-size="6.5" font-weight="700" fill="#333" font-family="Liberation Sans, sans-serif">F</text>
<text x="813.5" y="15.5" font-size="13" font-weight="700" fill="#555" text-anchor="middle" font-family="Liberation Sans, sans-serif">A</text>
<rect x="836.5" y="4.5" width="11" height="12" fill="none" stroke="#555" stroke-width="1" stroke-dasharray="1 1"/>
<text x="842" y="15" font-size="11" font-weight="700" fill="#555" text-anchor="middle" font-family="Liberation Sans, sans-serif">T</text>
<path d="M863.5,7 l3,-3 l3,3 l-3,3 z M871,13.5 l3,-3 l3,3 l-3,3 z" fill="#333"/><path d="M866,12 l2,2 l4,-5" stroke="#333" stroke-width="1.2" fill="none"/>
<polygon points="884.0,9 889.0,9 886.5,12" fill="#000"/>
<rect x="895" y="0" width="1" height="22" fill="#a0a0a0"/>
<rect x="899" y="2" width="3" height="1" fill="#b4b4b4"/>
<rect x="899" y="4" width="3" height="1" fill="#b4b4b4"/>
<rect x="899" y="6" width="3" height="1" fill="#b4b4b4"/>
<rect x="899" y="8" width="3" height="1" fill="#b4b4b4"/>
<rect x="899" y="10" width="3" height="1" fill="#b4b4b4"/>
<rect x="899" y="12" width="3" height="1" fill="#b4b4b4"/>
<rect x="899" y="14" width="3" height="1" fill="#b4b4b4"/>
<rect x="899" y="16" width="3" height="1" fill="#b4b4b4"/>
<rect x="899" y="18" width="3" height="1" fill="#b4b4b4"/>
<rect x="1045" y="1" width="1" height="19" fill="#a0a0a0"/>
<rect x="1046" y="0" width="24" height="21" fill="#f7f7f7"/>
<text x="917" y="13.5" font-size="9.5" fill="#333" text-anchor="middle" font-family="Liberation Sans, sans-serif">M1</text>
<text x="945.3" y="13.5" font-size="9.5" fill="#333" text-anchor="middle" font-family="Liberation Sans, sans-serif">M5</text>
<text x="973.7" y="13.5" font-size="9.5" fill="#333" text-anchor="middle" font-family="Liberation Sans, sans-serif">M15</text>
<text x="1001.7" y="13.5" font-size="9.5" fill="#333" text-anchor="middle" font-family="Liberation Sans, sans-serif">M30</text>
<text x="1029.3" y="13.5" font-size="9.5" fill="#333" text-anchor="middle" font-family="Liberation Sans, sans-serif">H1</text>
<text x="1056.7" y="13.5" font-size="9.5" fill="#333" text-anchor="middle" font-family="Liberation Sans, sans-serif">H4</text>
<text x="1085.5" y="13.5" font-size="9.5" fill="#333" text-anchor="middle" font-family="Liberation Sans, sans-serif">D1</text>
<text x="1114.5" y="13.5" font-size="9.5" fill="#333" text-anchor="middle" font-family="Liberation Sans, sans-serif">W1</text>
<text x="1141.2" y="13.5" font-size="9.5" fill="#333" text-anchor="middle" font-family="Liberation Sans, sans-serif">MN</text>
<rect x="1156" y="0" width="1" height="22" fill="#a0a0a0"/>
<circle cx="1626.5" cy="7.5" r="3.7" fill="#f6f9ff" stroke="#2a5fd0" stroke-width="1.3"/><path d="M1623.5,10.5 L1619,15" stroke="#2a5fd0" stroke-width="2.2" stroke-linecap="round"/>
<ellipse cx="1659" cy="7" rx="6.5" ry="5" fill="#f4f4f8" stroke="#a8a8a8" stroke-width="0.9"/><path d="M1661,11.5 l2,2.5 l0,-3" fill="#d8d8d8" stroke="#a0a0a0" stroke-width="0.6"/>
<ellipse cx="1650" cy="11" rx="5" ry="4" fill="#f0f0f4" stroke="#a0a0a0" stroke-width="0.9"/><path d="M1647,14.5 l0,2.5 l2.5,-2" fill="#d0d0d0" stroke="#909090" stroke-width="0.6"/>
</svg>
</body></html>
